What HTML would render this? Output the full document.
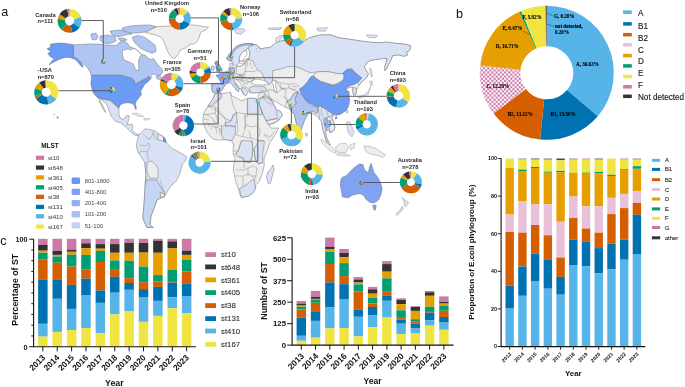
<!DOCTYPE html><html><head><meta charset="utf-8"><style>html,body{margin:0;padding:0;background:#fff;width:685px;height:387px;overflow:hidden}svg{display:block;will-change:transform}</style></head><body><svg width="685" height="387" viewBox="0 0 685 387" font-family="Liberation Sans, sans-serif"><polygon points="145.2,32.4 148.1,30.1 157.4,26.6 169.1,26.0 192.3,24.9 200.5,26.0 208.6,27.2 205.1,30.1 200.5,32.4 199.3,37.1 197.0,41.7 193.5,44.1 191.0,43.9 185.6,47.8 180.2,50.1 177.8,54.7 174.7,58.6 171.6,57.1 168.5,53.2 166.2,47.8 164.7,43.9 163.1,40.0 160.9,37.1 155.1,34.8 149.3,33.6" fill="#EDEDED" stroke="#666666" stroke-width="0.45" stroke-linejoin="round"/>
<polygon points="91.0,34.0 96.0,33.0 98.0,37.0 96.0,40.0 92.0,39.5" fill="#AFC6F4" stroke="#666666" stroke-width="0.45" stroke-linejoin="round"/>
<polygon points="100.0,36.0 108.0,35.0 115.0,37.0 116.0,41.0 110.0,43.5 103.0,43.0 100.0,40.0" fill="#AFC6F4" stroke="#666666" stroke-width="0.45" stroke-linejoin="round"/>
<polygon points="110.0,31.0 120.0,30.0 131.0,30.5 132.0,34.0 125.0,35.0 118.0,37.0 112.0,35.0" fill="#AFC6F4" stroke="#666666" stroke-width="0.45" stroke-linejoin="round"/>
<polygon points="122.0,28.0 130.0,26.0 140.0,25.2 150.0,25.0 156.0,26.5 150.0,30.0 145.0,32.0 138.0,33.0 130.0,33.0 124.0,31.0" fill="#AFC6F4" stroke="#666666" stroke-width="0.45" stroke-linejoin="round"/>
<polygon points="132.5,37.0 138.0,35.5 144.0,37.0 150.0,41.0 155.0,45.0 156.0,49.5 155.6,52.0 152.0,53.3 146.0,51.0 141.0,48.5 137.0,45.0 135.0,43.0 133.0,40.0" fill="#AFC6F4" stroke="#666666" stroke-width="0.45" stroke-linejoin="round"/>
<polygon points="131.0,49.0 135.0,48.5 136.0,51.0 132.0,51.0" fill="#AFC6F4" stroke="#666666" stroke-width="0.45" stroke-linejoin="round"/>
<polygon points="118.0,38.5 124.0,38.0 127.0,40.0 121.0,41.0" fill="#AFC6F4" stroke="#666666" stroke-width="0.45" stroke-linejoin="round"/>
<polygon points="73.3,44.8 80.0,44.5 90.8,43.9 98.0,44.0 107.0,45.0 116.0,45.5 120.0,42.0 125.0,41.5 128.0,44.0 130.0,47.0 133.0,48.0 137.0,50.0 140.0,53.5 141.2,54.3 145.3,55.3 148.4,58.4 151.5,59.5 153.6,58.4 155.6,61.5 157.7,64.6 159.8,66.7 162.4,69.3 162.9,71.8 160.8,74.9 157.7,76.0 153.6,73.9 150.5,76.0 152.0,77.5 150.4,79.3 148.6,76.4 146.9,78.2 143.4,79.9 138.7,82.3 135.2,84.6 134.0,80.5 131.1,78.2 124.7,76.4 121.2,75.3 91.4,75.3 89.6,71.2 86.5,66.5 81.9,62.6 77.0,58.8 73.3,57.2" fill="#AFC6F4" stroke="#666666" stroke-width="0.45" stroke-linejoin="round"/>
<polygon points="156.0,76.5 159.5,75.5 161.8,77.5 160.0,79.5 157.0,79.0" fill="#AFC6F4" stroke="#666666" stroke-width="0.35" stroke-linejoin="round"/>
<polygon points="122.3,50.5 127.0,49.0 131.0,49.8 134.0,48.3 137.0,50.0 140.0,53.5 141.5,55.0 140.0,57.0 138.5,61.0 138.8,70.5 135.5,70.0 133.3,64.0 129.0,62.0 124.0,60.0 122.5,56.0" fill="#ffffff" stroke="#666666" stroke-width="0.45" stroke-linejoin="round"/>
<polygon points="50.9,44.0 58.6,43.0 64.8,43.3 73.3,44.8 73.3,57.2 77.2,58.8 81.1,62.6 83.4,66.5 82.0,67.0 75.7,59.8 70.2,57.5 64.8,57.5 60.2,59.0 55.5,61.2 50.9,63.6 49.3,65.0 51.0,62.0 54.0,58.8 50.0,56.4 47.8,53.3 50.9,51.8 47.0,48.7 50.9,47.1 50.0,44.8" fill="#6B9BF4" stroke="#666666" stroke-width="0.45" stroke-linejoin="round"/>
<polygon points="91.4,75.3 121.2,75.3 124.7,76.4 131.1,78.2 134.0,80.5 135.2,84.6 138.7,82.3 143.4,79.9 146.9,78.2 148.6,76.4 150.4,79.3 148.1,81.7 144.6,84.6 142.2,88.7 140.5,91.6 141.6,94.5 138.7,98.0 136.4,100.9 135.2,103.9 136.4,107.4 135.8,109.7 134.0,105.0 131.7,103.3 127.0,102.7 123.5,103.3 120.0,105.0 118.9,108.5 116.5,106.2 113.0,103.3 110.1,100.4 106.0,99.8 102.5,99.2 99.0,98.0 96.1,96.3 93.2,92.8 92.0,88.7 90.8,84.0 91.4,79.3" fill="#6B9BF4" stroke="#666666" stroke-width="0.45" stroke-linejoin="round"/>
<polygon points="53.6,114.2 54.6,114.6 54.2,115.2" fill="#6B9BF4" stroke="#666666" stroke-width="0.3" stroke-linejoin="round"/>
<polygon points="56.8,116.6 58.6,117.4 58.2,118.6 57.0,118.0" fill="#6B9BF4" stroke="#666666" stroke-width="0.3" stroke-linejoin="round"/>
<polygon points="97.5,97.5 99.0,98.0 102.5,99.2 106.0,99.8 110.1,100.4 113.0,103.3 116.5,106.2 118.9,108.5 118.8,113.6 120.0,117.7 122.9,119.4 125.2,118.3 125.8,115.9 128.7,115.3 129.3,118.3 128.1,121.7 127.0,124.7 132.2,124.1 132.8,127.0 132.2,129.9 134.0,132.2 136.9,134.0 139.2,135.1 135.7,135.7 132.2,133.4 128.7,129.9 125.2,126.4 120.6,122.9 115.3,121.2 111.3,116.5 109.0,110.1 106.6,104.3 103.0,101.0" fill="#D9E2F5" stroke="#666666" stroke-width="0.45" stroke-linejoin="round"/>
<polygon points="99.1,99.7 102.0,104.3 104.9,110.1 105.5,112.4 103.1,109.0 99.7,102.0" fill="#D9E2F5" stroke="#666666" stroke-width="0.45" stroke-linejoin="round"/>
<polygon points="132.2,113.5 137.0,113.0 143.8,116.5 140.0,116.5 135.0,115.0" fill="#EDEDED" stroke="#666666" stroke-width="0.3" stroke-linejoin="round"/>
<polygon points="143.8,118.3 149.7,118.5 149.0,120.0 144.0,120.0" fill="#EDEDED" stroke="#666666" stroke-width="0.3" stroke-linejoin="round"/>
<polygon points="138.9,134.4 143.4,130.7 145.0,128.7 150.6,129.8 155.5,131.0 157.9,133.5 163.6,136.9 165.1,138.9 167.2,143.6 171.9,148.3 178.1,151.4 183.5,154.5 186.8,157.0 185.5,160.5 182.7,163.8 181.2,168.4 179.6,174.6 176.5,180.8 171.9,185.0 168.6,189.3 164.4,196.5 157.2,199.6 154.1,207.9 151.0,216.1 150.0,224.4 153.1,227.5 146.9,227.5 142.7,218.2 143.8,207.9 144.8,191.3 145.8,174.8 144.8,162.4 140.7,156.2 138.0,152.4 136.2,145.2" fill="#D9E2F5" stroke="#666666" stroke-width="0.45" stroke-linejoin="round"/>
<polygon points="146.5,180.0 157.0,180.0 160.0,186.0 164.4,192.5 164.4,196.5 157.2,199.6 154.1,207.9 151.0,216.1 150.0,224.4 153.1,227.5 146.9,227.5 142.7,218.2 143.8,207.9 144.8,191.3 145.5,180.0" fill="#C5D6F2" stroke="#666666" stroke-width="0.45" stroke-linejoin="round"/>
<polygon points="147.0,162.0 152.0,161.0 156.0,165.0 158.3,170.0 158.0,178.0 150.0,178.5 147.0,172.0" fill="#EDEDED" stroke="#666666" stroke-width="0.45" stroke-linejoin="round"/>
<polygon points="160.3,192.4 164.4,194.0 164.4,196.5 160.5,197.5" fill="#EDEDED" stroke="#666666" stroke-width="0.45" stroke-linejoin="round"/>
<polygon points="157.9,133.5 163.6,136.9 163.5,141.0 158.0,140.0" fill="#EDEDED" stroke="#666666" stroke-width="0.45" stroke-linejoin="round"/>
<polygon points="163.6,136.9 165.1,138.9 166.0,142.5 163.5,141.5" fill="#6B9BF4" stroke="#666666" stroke-width="0.45" stroke-linejoin="round"/>
<polygon points="211.2,85.9 212.2,83.8 215.3,83.3 222.1,83.8 221.6,81.7 219.5,79.1 218.4,77.1 216.4,76.6 216.4,75.5 219.5,74.5 223.1,73.4 226.7,72.4 228.3,70.3 229.3,67.2 230.5,66.0 230.9,63.1 232.9,64.1 232.4,66.5 232.4,67.8 235.0,67.5 238.0,66.5 242.0,65.5 244.0,64.0 246.0,62.0 246.0,59.5 249.0,58.5 249.5,56.0 250.0,52.0 248.0,48.0 250.0,44.5 252.9,44.3 257.0,45.0 261.0,49.0 265.0,48.0 270.0,47.5 277.0,42.1 284.2,40.3 293.3,43.9 302.3,42.1 309.6,37.6 320.4,34.9 330.9,34.9 338.1,37.6 350.0,39.3 358.5,40.7 368.5,42.1 378.4,42.8 387.0,42.1 396.9,43.5 405.5,44.2 410.5,45.7 409.7,50.6 406.2,52.1 407.6,54.9 404.0,56.3 398.4,54.9 392.7,55.6 391.3,59.2 389.1,63.4 386.3,69.1 384.9,70.6 384.9,66.3 386.3,62.0 387.0,58.5 384.9,58.5 378.4,59.2 372.8,59.9 368.5,61.3 364.2,66.3 365.9,70.0 368.3,73.5 367.1,77.0 362.4,81.6 359.0,85.1 356.6,89.8 356.0,94.4 353.7,95.0 352.6,90.9 353.1,87.4 349.7,87.4 345.0,89.8 348.5,91.5 349.7,93.3 347.3,99.1 347.3,104.9 346.2,110.7 344.7,111.2 340.5,114.0 336.2,115.0 333.3,114.7 331.7,118.6 334.0,123.3 334.8,127.9 333.3,131.0 330.2,132.6 328.6,129.5 325.5,131.0 326.3,137.2 328.6,141.9 330.2,145.0 327.8,144.2 325.5,138.8 324.0,133.3 322.4,127.9 321.6,121.7 319.3,118.6 316.2,115.5 313.1,114.0 309.9,111.7 306.8,115.6 304.5,120.3 302.2,126.5 300.6,131.9 299.1,133.4 297.5,129.6 296.0,121.8 294.4,114.1 291.3,111.7 289.8,108.7 286.0,107.5 283.0,106.0 278.0,103.0 273.0,100.0 270.5,98.0 272.0,101.0 274.0,104.7 276.5,110.0 280.4,111.3 282.4,115.2 279.1,119.8 273.8,123.1 268.6,124.4 266.6,121.8 263.3,115.2 260.7,108.7 258.7,102.7 258.1,96.8 259.4,92.9 262.0,92.0 256.0,92.5 252.0,93.0 249.5,92.5 248.4,89.0 246.5,87.5 245.0,88.0 246.4,92.0 244.0,95.2 242.0,92.0 241.2,90.0 239.0,88.0 237.0,85.0 235.0,82.8 237.1,85.9 239.1,89.0 238.1,91.0 236.0,90.0 235.0,86.9 231.9,83.8 230.3,82.2 227.8,83.3 225.2,84.3 223.6,86.9 222.1,90.0 220.5,92.1 217.4,93.1 214.8,92.6 212.8,92.1 211.7,89.0" fill="#EDEDED" stroke="#666666" stroke-width="0.45" stroke-linejoin="round"/>
<polygon points="246.0,59.5 249.0,58.5 249.5,56.0 250.0,52.0 248.0,48.0 250.0,44.5 252.9,44.3 257.0,45.0 261.0,49.0 265.0,48.0 270.0,47.5 277.0,42.1 284.2,40.3 293.3,43.9 302.3,42.1 309.6,37.6 320.4,34.9 330.9,34.9 338.1,37.6 350.0,39.3 358.5,40.7 368.5,42.1 378.4,42.8 387.0,42.1 396.9,43.5 405.5,44.2 410.5,45.7 409.7,50.6 406.2,52.1 407.6,54.9 404.0,56.3 398.4,54.9 392.7,55.6 391.3,59.2 389.1,63.4 386.3,69.1 384.9,70.6 384.9,66.3 386.3,62.0 387.0,58.5 384.9,58.5 378.4,59.2 372.8,59.9 368.5,61.3 364.2,66.3 365.9,70.0 368.3,73.5 367.1,77.0 362.4,81.6 359.0,85.1 357.5,82.0 358.5,78.0 356.0,73.0 352.0,69.2 347.6,69.2 344.0,72.0 342.6,73.5 336.2,73.5 330.5,72.1 323.4,71.4 316.3,72.1 310.0,72.6 305.0,70.7 299.8,68.1 293.3,66.2 286.9,66.8 281.7,68.7 272.6,70.7 272.6,79.7 271.0,83.0 269.0,85.0 266.0,82.0 264.0,78.0 262.3,73.3 258.0,70.0 255.0,66.0 253.0,61.0 250.0,60.0" fill="#D9E2F5" stroke="#666666" stroke-width="0.45" stroke-linejoin="round"/>
<polygon points="234.0,30.5 238.0,28.8 243.5,28.6 245.5,30.5 241.0,34.3 236.5,33.5" fill="#D9E2F5" stroke="#666666" stroke-width="0.35" stroke-linejoin="round"/>
<polygon points="276.0,38.0 280.0,35.5 284.0,35.3 281.0,38.5 277.5,42.5 275.5,41.0" fill="#D9E2F5" stroke="#666666" stroke-width="0.35" stroke-linejoin="round"/>
<polygon points="316.8,28.0 327.6,27.7 325.0,31.3 318.0,31.0" fill="#D9E2F5" stroke="#666666" stroke-width="0.35" stroke-linejoin="round"/>
<polygon points="268.0,28.0 282.0,27.7 280.0,29.5 269.0,29.5" fill="#D9E2F5" stroke="#666666" stroke-width="0.35" stroke-linejoin="round"/>
<polygon points="366.0,35.0 372.0,34.8 378.0,35.5 376.0,37.5 369.0,37.8" fill="#D9E2F5" stroke="#666666" stroke-width="0.35" stroke-linejoin="round"/>
<polygon points="226.5,58.7 229.0,54.5 232.3,50.4 236.4,46.3 240.5,44.6 244.7,43.8 248.8,43.4 252.9,43.8 253.5,45.5 250.0,46.0 247.5,48.0 246.3,50.4 243.8,51.2 240.5,54.5 239.3,58.7 239.7,63.6 238.0,65.5 235.0,66.0 233.0,64.0 232.0,61.5 229.0,60.5" fill="#D9E2F5" stroke="#666666" stroke-width="0.45" stroke-linejoin="round"/>
<polygon points="226.5,58.7 229.0,54.5 232.3,50.4 236.4,46.3 240.5,44.6 244.7,43.8 248.8,43.4 252.9,43.8 252.5,45.0 248.0,44.8 244.0,45.3 240.0,46.5 236.0,49.0 233.0,53.0 232.5,57.0 232.0,60.5 229.0,60.8" fill="#A7BEF3" stroke="#666666" stroke-width="0.45" stroke-linejoin="round"/>
<polygon points="246.3,50.4 247.1,54.5 243.8,58.7 243.0,62.8 239.7,63.6 239.3,58.7 240.5,54.5 243.8,51.2" fill="#ffffff" stroke="#666666" stroke-width="0.45" stroke-linejoin="round"/>
<polygon points="237.0,65.5 238.5,62.5 242.0,61.5 244.3,60.3 246.0,59.6 249.0,59.2 246.5,60.8 244.5,62.0 243.5,64.5 241.0,66.0 238.0,66.5" fill="#ffffff" stroke="#666666" stroke-width="0.45" stroke-linejoin="round"/>
<polygon points="256.5,48.5 259.0,48.0 260.0,50.0 258.0,51.5 257.0,50.5" fill="#ffffff" stroke="#666666" stroke-width="0.35" stroke-linejoin="round"/>
<polygon points="251.3,81.0 255.8,79.1 260.0,79.6 263.6,80.4 268.8,83.0 266.0,84.5 263.6,84.9 255.8,84.9 252.0,83.6" fill="#ffffff" stroke="#666666" stroke-width="0.45" stroke-linejoin="round"/>
<polygon points="272.6,79.7 276.5,81.0 275.5,84.0 275.9,87.5 277.2,92.6 274.6,91.4 273.8,88.0 273.3,84.9 272.0,82.5" fill="#ffffff" stroke="#666666" stroke-width="0.45" stroke-linejoin="round"/>
<polygon points="299.3,89.1 303.5,86.3 307.8,81.3 310.6,77.0 313.5,75.6 316.3,78.5 320.6,81.3 327.7,83.4 333.4,84.9 337.6,83.4 343.3,79.9 344.0,75.6 342.6,73.5 347.6,69.2 351.8,69.2 354.7,72.8 358.9,75.6 361.8,77.8 358.9,81.3 354.7,84.2 350.4,85.6 346.9,87.7 345.4,90.6 348.3,91.3 349.0,95.5 349.7,99.8 349.0,104.0 347.6,108.3 344.7,111.2 340.5,114.0 336.2,115.0 330.5,112.6 326.3,109.7 322.0,106.9 316.3,106.2 310.6,104.0 306.4,101.2 303.5,96.9 300.7,92.7" fill="#6B9BF4" stroke="#666666" stroke-width="0.45" stroke-linejoin="round"/>
<polygon points="313.5,75.6 316.3,72.1 323.4,71.4 330.5,72.1 336.2,73.5 342.6,73.5 344.0,75.6 343.3,79.9 337.6,83.4 333.4,84.9 327.7,83.4 320.6,81.3 316.3,78.5" fill="#EDEDED" stroke="#666666" stroke-width="0.45" stroke-linejoin="round"/>
<polygon points="353.1,87.4 356.6,88.5 356.6,89.8 356.0,94.4 353.7,95.0 352.6,90.9" fill="#D9E2F5" stroke="#666666" stroke-width="0.45" stroke-linejoin="round"/>
<polygon points="369.4,81.6 372.0,81.0 372.9,85.1 370.5,85.6" fill="#D9E2F5" stroke="#666666" stroke-width="0.3" stroke-linejoin="round"/>
<polygon points="370.6,86.3 368.3,90.9 364.8,94.4 360.1,96.2 357.8,97.3 359.0,98.5 363.6,96.7 368.3,94.4 370.0,89.8" fill="#D9E2F5" stroke="#666666" stroke-width="0.3" stroke-linejoin="round"/>
<polygon points="369.6,68.0 371.0,68.5 372.5,76.0 371.2,77.0" fill="#D9E2F5" stroke="#666666" stroke-width="0.3" stroke-linejoin="round"/>
<polygon points="297.5,91.6 302.2,95.5 306.8,101.7 311.5,106.3 316.1,106.3 317.7,107.1 318.4,111.0 316.1,114.1 313.8,111.7 309.9,111.7 306.8,115.6 304.5,120.3 302.2,126.5 300.6,131.9 299.1,133.4 297.5,129.6 296.0,121.8 294.4,114.1 291.3,111.7 289.8,108.7 292.9,106.3 296.0,103.2 295.2,98.6 296.7,94.7" fill="#AFC4F2" stroke="#666666" stroke-width="0.45" stroke-linejoin="round"/>
<polygon points="288.2,103.2 289.8,108.7 292.9,106.3 296.0,103.2 295.2,98.6 296.7,94.7 297.5,91.6 293.7,93.9 290.6,98.6 286.7,101.7" fill="#C5D4F3" stroke="#666666" stroke-width="0.45" stroke-linejoin="round"/>
<polygon points="317.7,107.1 320.8,106.3 322.0,106.9 326.3,109.7 330.5,112.6 333.3,114.7 331.7,118.6 334.0,123.3 334.8,127.9 333.3,131.0 330.2,132.6 328.6,129.5 325.5,131.0 326.3,137.2 328.6,141.9 330.2,145.0 327.8,144.2 325.5,138.8 324.0,133.3 322.4,127.9 321.6,121.7 319.3,118.6 318.4,111.0" fill="#D9E2F5" stroke="#666666" stroke-width="0.45" stroke-linejoin="round"/>
<polygon points="327.0,117.5 330.5,116.0 333.5,114.8 331.7,118.6 334.0,123.3 334.8,127.9 333.3,131.0 330.2,132.6 329.4,127.5 330.9,123.9 330.4,120.8 327.3,121.3" fill="#E6ECF8" stroke="#666666" stroke-width="0.45" stroke-linejoin="round"/>
<polygon points="324.2,118.2 326.8,117.7 327.3,121.3 330.4,120.8 330.9,123.9 329.4,126.5 327.3,127.5 326.3,130.0 325.2,127.5 324.2,124.9 323.7,121.3" fill="#A3BBF2" stroke="#666666" stroke-width="0.45" stroke-linejoin="round"/>
<polygon points="335.0,117.0 337.0,116.5 336.8,118.8 335.2,119.0" fill="#6B9BF4" stroke="#666666" stroke-width="0.3" stroke-linejoin="round"/>
<polygon points="258.7,102.7 260.7,108.7 263.3,115.2 266.6,121.8 268.6,124.4 273.8,123.1 279.1,119.8 282.4,115.2 280.4,111.3 276.5,110.0 273.8,104.7 271.2,100.8 268.6,96.8 262.0,97.0 259.4,99.0" fill="#D9E2F5" stroke="#666666" stroke-width="0.45" stroke-linejoin="round"/>
<polygon points="266.0,120.8 272.0,119.5 277.4,118.5 279.1,119.8 273.8,123.1 268.6,124.4 266.6,121.8" fill="#EDEDED" stroke="#666666" stroke-width="0.45" stroke-linejoin="round"/>
<polygon points="215.5,61.2 217.7,61.0 218.5,63.5 220.0,66.0 221.8,68.5 222.4,70.5 220.0,71.4 216.5,71.4 217.0,69.5 215.8,67.5 216.0,65.0 214.6,63.5" fill="#7CA2F2" stroke="#666666" stroke-width="0.45" stroke-linejoin="round"/>
<polygon points="211.0,66.5 213.5,65.7 214.6,67.5 214.0,70.0 211.5,70.3" fill="#C9D6F4" stroke="#666666" stroke-width="0.45" stroke-linejoin="round"/>
<polygon points="216.2,75.5 220.3,73.4 225.5,71.9 229.1,72.4 229.6,76.5 229.1,80.7 228.1,83.2 224.5,83.2 221.4,83.8 219.8,80.7 218.3,77.6" fill="#86A8F2" stroke="#666666" stroke-width="0.45" stroke-linejoin="round"/>
<polygon points="212.0,84.2 216.0,83.5 222.0,84.0 225.5,85.0 223.6,87.5 222.0,90.5 220.0,92.5 216.0,93.0 213.0,92.8 211.8,89.0" fill="#B4C8F4" stroke="#666666" stroke-width="0.45" stroke-linejoin="round"/>
<polygon points="229.1,68.3 232.0,67.8 234.8,69.0 234.8,73.5 233.5,76.5 230.0,76.5 229.6,73.0" fill="#A6BEF3" stroke="#666666" stroke-width="0.45" stroke-linejoin="round"/>
<polygon points="229.6,78.6 233.0,78.1 234.5,79.5 234.0,82.0 236.5,85.5 239.0,88.5 238.5,92.0 236.5,90.0 235.0,88.0 232.0,84.5 230.0,82.5" fill="#C6D5F4" stroke="#666666" stroke-width="0.45" stroke-linejoin="round"/>
<polygon points="229.6,76.5 233.5,76.5 234.0,78.5 229.6,78.6" fill="#C9D6F4" stroke="#666666" stroke-width="0.45" stroke-linejoin="round"/>
<polygon points="229.5,63.0 232.8,63.5 233.0,67.5 230.0,67.8" fill="#D9E2F5" stroke="#666666" stroke-width="0.3" stroke-linejoin="round"/>
<polygon points="241.0,88.0 245.0,87.9 248.2,91.0 246.0,96.2 243.0,93.0" fill="#D9E2F5" stroke="#666666" stroke-width="0.45" stroke-linejoin="round"/>
<polygon points="249.3,87.5 253.0,86.5 258.0,86.2 265.0,86.8 266.5,90.5 260.0,92.5 253.0,93.0 250.0,92.0" fill="#D9E2F5" stroke="#666666" stroke-width="0.45" stroke-linejoin="round"/>
<polygon points="235.0,76.5 241.0,76.0 244.0,78.0 241.0,80.0 236.0,79.5" fill="#D9E2F5" stroke="#666666" stroke-width="0.45" stroke-linejoin="round"/>
<polygon points="208.1,106.0 210.8,102.1 213.4,98.1 214.7,94.2 218.0,92.9 221.3,93.5 226.5,92.9 230.5,92.2 231.8,96.2 237.0,98.1 241.0,100.8 246.2,98.8 251.5,98.1 256.8,98.8 258.7,102.7 260.7,108.7 263.3,115.2 266.6,121.8 268.6,124.4 271.3,128.1 278.7,128.1 275.7,134.0 269.8,142.9 266.8,151.8 263.9,159.3 264.3,165.0 263.2,170.2 261.7,175.3 259.1,181.5 256.0,184.6 255.5,188.8 252.9,192.9 248.8,196.0 241.5,197.5 239.5,193.9 238.4,188.8 236.4,183.6 234.8,177.4 233.3,170.2 233.8,165.0 235.2,158.0 233.4,155.3 233.0,150.0 233.6,145.0 232.0,141.0 228.0,140.0 223.7,139.5 219.1,140.1 214.4,139.5 210.9,137.2 207.4,132.6 205.1,127.9 204.0,125.0 202.8,120.9 203.4,115.1 205.1,110.5" fill="#EDEDED" stroke="#666666" stroke-width="0.45" stroke-linejoin="round"/>
<polygon points="208.1,106.0 210.8,102.1 213.4,98.1 214.7,94.2 218.0,92.9 221.3,93.5 222.0,97.0 218.0,100.0 214.0,103.0 210.0,107.0" fill="#D9E2F5" stroke="#666666" stroke-width="0.45" stroke-linejoin="round"/>
<polygon points="247.6,98.5 251.5,98.1 256.8,98.8 258.7,102.7 260.7,108.7 262.0,114.6 247.6,114.6" fill="#D9E2F5" stroke="#666666" stroke-width="0.45" stroke-linejoin="round"/>
<polygon points="236.4,112.5 237.2,121.0 234.1,127.2 226.4,126.4 224.8,123.3 231.0,121.0 233.3,114.8" fill="#D9E2F5" stroke="#666666" stroke-width="0.45" stroke-linejoin="round"/>
<polygon points="221.5,126.0 230.0,125.7 235.7,127.0 235.0,135.0 232.0,140.5 228.0,140.0 223.7,139.5 221.5,135.0" fill="#D9E2F5" stroke="#666666" stroke-width="0.45" stroke-linejoin="round"/>
<polygon points="241.7,140.5 252.2,141.0 252.8,148.6 252.2,156.7 249.9,162.6 244.1,161.4 242.9,157.9 238.3,156.7 235.3,154.4 238.3,150.9 240.0,145.1" fill="#D9E2F5" stroke="#666666" stroke-width="0.45" stroke-linejoin="round"/>
<polygon points="258.6,140.5 264.4,141.0 263.8,147.4 262.7,153.3 262.7,162.6 258.0,163.7 255.1,159.1 254.0,148.6 256.9,144.0" fill="#D9E2F5" stroke="#666666" stroke-width="0.45" stroke-linejoin="round"/>
<polygon points="239.5,188.8 243.1,186.7 247.2,184.1 251.3,180.5 254.4,180.0 255.5,188.8 252.9,192.9 248.8,196.0 241.5,197.5" fill="#D9E2F5" stroke="#666666" stroke-width="0.45" stroke-linejoin="round"/>
<polygon points="267.4,180.5 266.3,176.4 268.4,171.2 271.5,168.1 273.0,165.0 274.1,169.1 272.5,175.3 270.5,183.1 268.4,184.1" fill="#D9E2F5" stroke="#666666" stroke-width="0.45" stroke-linejoin="round"/>
<polygon points="320.9,138.8 326.0,142.0 332.0,147.0 336.4,152.7 334.0,153.0 328.0,149.0 322.0,143.0" fill="#EDEDED" stroke="#666666" stroke-width="0.3" stroke-linejoin="round"/>
<polygon points="335.6,147.0 340.0,143.4 346.0,143.4 348.8,147.0 346.0,152.7 340.0,152.7 336.0,151.0" fill="#EDEDED" stroke="#666666" stroke-width="0.3" stroke-linejoin="round"/>
<polygon points="337.0,153.5 344.0,153.8 350.0,155.8 344.0,156.0 337.0,155.2" fill="#EDEDED" stroke="#666666" stroke-width="0.3" stroke-linejoin="round"/>
<polygon points="350.0,145.0 355.0,143.0 354.0,148.0 351.0,150.0" fill="#EDEDED" stroke="#666666" stroke-width="0.3" stroke-linejoin="round"/>
<polygon points="364.0,146.0 370.0,146.5 377.0,149.0 385.5,155.0 383.0,157.5 376.0,155.0 370.0,154.0 365.5,151.0" fill="#EDEDED" stroke="#666666" stroke-width="0.35" stroke-linejoin="round"/>
<polygon points="346.4,122.0 350.0,121.7 352.0,127.0 354.2,132.0 352.0,137.0 348.0,133.0 347.0,127.0" fill="#D9E2F5" stroke="#666666" stroke-width="0.3" stroke-linejoin="round"/>
<polygon points="305.8,133.0 307.3,133.4 307.6,135.8 306.2,136.4 305.6,135.0" fill="#D9E2F5" stroke="#666666" stroke-width="0.35" stroke-linejoin="round"/>
<polygon points="346.5,110.5 348.0,110.0 347.8,113.0 346.6,113.0" fill="#D9E2F5" stroke="#666666" stroke-width="0.3" stroke-linejoin="round"/>
<polygon points="340.9,179.4 342.4,177.2 346.1,175.7 349.0,172.7 352.0,169.8 354.2,167.6 357.1,165.4 359.3,163.9 363.0,164.6 363.7,167.6 365.2,170.5 368.2,172.7 369.6,166.8 371.1,163.2 372.6,168.3 374.1,172.7 377.8,177.2 380.7,183.1 382.2,189.0 380.7,195.6 378.5,200.0 374.1,203.0 369.6,202.2 366.0,199.3 363.7,195.6 360.1,193.4 352.7,194.9 348.3,197.8 342.4,197.1 341.6,191.9 340.2,185.3" fill="#7FA3F2" stroke="#666666" stroke-width="0.45" stroke-linejoin="round"/>
<polygon points="372.6,205.2 376.3,205.2 375.5,210.3 373.6,209.6" fill="#7FA3F2" stroke="#666666" stroke-width="0.35" stroke-linejoin="round"/>
<polygon points="402.4,197.4 404.7,200.1 408.6,202.4 407.4,204.7 405.5,207.1 404.3,205.5 404.3,202.4" fill="#D9E2F5" stroke="#666666" stroke-width="0.35" stroke-linejoin="round"/>
<polygon points="402.4,206.3 403.2,208.6 401.6,210.9 398.5,214.0 397.0,215.6 396.2,213.3 398.5,211.7 400.9,208.6" fill="#D9E2F5" stroke="#666666" stroke-width="0.35" stroke-linejoin="round"/>
<polyline points="220.2,93.1 220.2,99.3 217.8,100.9 213.2,106.3" fill="none" stroke="#7a7a7a" stroke-width="0.4"/>
<polyline points="209.3,105.5 215.5,107.0 215.5,113.3 209.3,114.0 205.0,114.8" fill="none" stroke="#7a7a7a" stroke-width="0.4"/>
<polyline points="215.5,107.0 225.6,118.7 231.0,121.0 233.3,114.8 236.4,112.5" fill="none" stroke="#7a7a7a" stroke-width="0.4"/>
<polyline points="236.4,112.5 233.0,105.0 231.8,99.3 230.2,92.3" fill="none" stroke="#7a7a7a" stroke-width="0.4"/>
<polyline points="247.3,100.0 247.3,114.0" fill="none" stroke="#7a7a7a" stroke-width="0.4"/>
<polyline points="236.4,112.5 241.9,113.3 247.3,114.0 257.4,114.0" fill="none" stroke="#7a7a7a" stroke-width="0.4"/>
<polyline points="237.2,121.0 238.0,128.8 236.4,135.0" fill="none" stroke="#7a7a7a" stroke-width="0.4"/>
<polyline points="245.0,114.8 245.0,130.3 241.9,136.5" fill="none" stroke="#7a7a7a" stroke-width="0.4"/>
<polyline points="257.4,125.7 260.5,130.3 258.9,136.5" fill="none" stroke="#7a7a7a" stroke-width="0.4"/>
<polyline points="215.5,113.3 218.0,122.0 212.0,124.0 208.0,126.0" fill="none" stroke="#7a7a7a" stroke-width="0.4"/>
<polyline points="211.0,129.0 213.0,126.0 218.0,127.5 222.0,131.0" fill="none" stroke="#7a7a7a" stroke-width="0.4"/>
<polyline points="216.0,127.0 216.5,133.5" fill="none" stroke="#7a7a7a" stroke-width="0.4"/>
<polyline points="219.7,128.0 220.0,134.5" fill="none" stroke="#7a7a7a" stroke-width="0.4"/>
<polyline points="225.0,126.4 231.0,125.5 236.4,127.0" fill="none" stroke="#7a7a7a" stroke-width="0.4"/>
<polyline points="236.4,135.0 241.9,136.5 250.0,138.0 255.0,139.0 258.6,140.5" fill="none" stroke="#7a7a7a" stroke-width="0.4"/>
<polyline points="264.0,134.0 270.0,137.0 275.0,131.0" fill="none" stroke="#7a7a7a" stroke-width="0.4"/>
<polyline points="241.7,140.5 240.0,145.1 238.3,150.9 235.3,154.4" fill="none" stroke="#7a7a7a" stroke-width="0.4"/>
<polyline points="238.3,156.7 242.9,157.9 244.1,161.4 249.9,162.6 252.2,156.7 252.8,148.6 252.2,141.0" fill="none" stroke="#7a7a7a" stroke-width="0.4"/>
<polyline points="254.0,148.6 255.1,159.1 258.0,163.7 262.7,162.6" fill="none" stroke="#7a7a7a" stroke-width="0.4"/>
<polyline points="236.0,170.0 244.0,170.0 248.0,168.0 253.0,166.0 257.0,168.0" fill="none" stroke="#7a7a7a" stroke-width="0.4"/>
<polyline points="243.1,186.7 243.0,176.0 248.0,174.0 252.0,176.0 254.4,180.0" fill="none" stroke="#7a7a7a" stroke-width="0.4"/>
<polyline points="257.0,168.0 256.0,176.0 254.4,180.0" fill="none" stroke="#7a7a7a" stroke-width="0.4"/>
<polyline points="234.5,176.0 242.0,176.0" fill="none" stroke="#7a7a7a" stroke-width="0.4"/>
<polyline points="247.4,114.1 259.3,114.1" fill="none" stroke="#7a7a7a" stroke-width="0.4"/>
<polyline points="247.4,114.1 247.4,117.5" fill="none" stroke="#7a7a7a" stroke-width="0.4"/>
<polyline points="245.3,113.6 245.3,118.0 246.0,125.0 244.5,129.0" fill="none" stroke="#7a7a7a" stroke-width="0.4"/>
<polyline points="266.0,120.8 272.0,119.5 277.4,118.5" fill="none" stroke="#7a7a7a" stroke-width="0.4"/>
<polyline points="276.3,110.5 277.0,116.0 277.4,118.5" fill="none" stroke="#7a7a7a" stroke-width="0.4"/>
<polyline points="259.5,99.0 263.0,97.5 268.0,98.5 271.0,101.0" fill="none" stroke="#7a7a7a" stroke-width="0.4"/>
<polyline points="207.2,105.9 211.4,107.4 214.5,109.5 218.6,112.6 225.3,118.8" fill="none" stroke="#7a7a7a" stroke-width="0.4"/>
<polyline points="225.3,118.8 225.8,121.9 224.8,125.0" fill="none" stroke="#7a7a7a" stroke-width="0.4"/>
<polyline points="203.1,114.6 208.0,115.0 212.0,118.0 215.5,122.9" fill="none" stroke="#7a7a7a" stroke-width="0.4"/>
<polyline points="204.1,118.8 209.0,120.0" fill="none" stroke="#7a7a7a" stroke-width="0.4"/>
<polyline points="206.2,122.9 210.0,124.0" fill="none" stroke="#7a7a7a" stroke-width="0.4"/>
<polyline points="214.5,128.1 218.0,126.0 221.7,125.0" fill="none" stroke="#7a7a7a" stroke-width="0.4"/>
<polyline points="233.6,150.9 238.3,150.9" fill="none" stroke="#7a7a7a" stroke-width="0.4"/>
<polyline points="244.1,161.4 244.1,168.4" fill="none" stroke="#7a7a7a" stroke-width="0.4"/>
<polyline points="263.8,134.7 269.7,140.5" fill="none" stroke="#7a7a7a" stroke-width="0.4"/>
<polyline points="259.0,140.5 264.4,141.0" fill="none" stroke="#7a7a7a" stroke-width="0.4"/>
<polyline points="248.0,168.0 248.0,176.0" fill="none" stroke="#7a7a7a" stroke-width="0.4"/>
<polyline points="252.0,176.0 256.0,176.0" fill="none" stroke="#7a7a7a" stroke-width="0.4"/>
<polyline points="246.0,125.0 251.0,127.0 257.0,126.0" fill="none" stroke="#7a7a7a" stroke-width="0.4"/>
<polyline points="249.0,131.0 251.0,138.0" fill="none" stroke="#7a7a7a" stroke-width="0.4"/>
<polyline points="236.4,66.4 236.4,73.6 240.0,75.0 245.7,73.6" fill="none" stroke="#7a7a7a" stroke-width="0.4"/>
<polyline points="245.7,64.3 245.7,71.5 253.9,71.5 258.0,70.0" fill="none" stroke="#7a7a7a" stroke-width="0.4"/>
<polyline points="244.6,70.5 244.0,76.0 249.0,78.8 255.0,79.0" fill="none" stroke="#7a7a7a" stroke-width="0.4"/>
<polyline points="238.4,60.2 247.7,62.0 247.7,66.4" fill="none" stroke="#7a7a7a" stroke-width="0.4"/>
<polyline points="239.0,63.5 247.0,64.0" fill="none" stroke="#7a7a7a" stroke-width="0.4"/>
<polyline points="235.0,77.5 241.0,77.0 245.0,78.5 248.0,80.5" fill="none" stroke="#7a7a7a" stroke-width="0.4"/>
<polyline points="237.0,80.0 240.0,82.0 242.0,85.0 243.0,88.0" fill="none" stroke="#7a7a7a" stroke-width="0.4"/>
<polyline points="240.0,80.0 246.0,81.0 250.0,82.5" fill="none" stroke="#7a7a7a" stroke-width="0.4"/>
<polyline points="238.5,75.0 243.0,76.0" fill="none" stroke="#7a7a7a" stroke-width="0.4"/>
<polyline points="271.8,80.7 280.8,82.6 288.6,84.5 293.8,83.3 298.9,85.8 300.2,87.1" fill="none" stroke="#7a7a7a" stroke-width="0.4"/>
<polyline points="268.0,89.7 272.0,90.0 277.2,92.6" fill="none" stroke="#7a7a7a" stroke-width="0.4"/>
<polyline points="277.2,92.6 280.0,90.0 284.7,88.4 290.0,88.0 293.8,90.0 297.0,91.5" fill="none" stroke="#7a7a7a" stroke-width="0.4"/>
<polyline points="283.0,96.0 284.7,97.5 288.0,100.0 286.0,104.0 286.0,107.5" fill="none" stroke="#7a7a7a" stroke-width="0.4"/>
<polyline points="280.0,83.0 281.0,88.0 284.7,88.4" fill="none" stroke="#7a7a7a" stroke-width="0.4"/>
<polyline points="288.6,84.5 289.0,88.0" fill="none" stroke="#7a7a7a" stroke-width="0.4"/>
<polyline points="262.0,92.0 266.0,95.0 270.5,98.0" fill="none" stroke="#7a7a7a" stroke-width="0.4"/>
<polyline points="259.4,99.0 262.0,97.0 266.0,95.0" fill="none" stroke="#7a7a7a" stroke-width="0.4"/>
<polyline points="262.0,97.0 268.0,103.0 273.0,104.7" fill="none" stroke="#7a7a7a" stroke-width="0.4"/>
<polyline points="317.7,107.1 318.4,111.0" fill="none" stroke="#7a7a7a" stroke-width="0.4"/>
<polyline points="322.0,107.0 321.0,112.0 323.0,117.0" fill="none" stroke="#7a7a7a" stroke-width="0.4"/>
<polyline points="327.0,111.0 328.0,116.0 331.7,118.6" fill="none" stroke="#7a7a7a" stroke-width="0.4"/>
<polyline points="267.9,89.7 269.2,97.5 274.4,102.6" fill="none" stroke="#7a7a7a" stroke-width="0.4"/>
<polyline points="277.0,82.0 280.8,88.4 286.0,89.7" fill="none" stroke="#7a7a7a" stroke-width="0.4"/>
<polyline points="286.0,89.7 285.4,96.2 287.3,102.6" fill="none" stroke="#7a7a7a" stroke-width="0.4"/>
<polyline points="287.3,102.6 291.2,98.8 293.8,93.6 297.6,91.0" fill="none" stroke="#7a7a7a" stroke-width="0.4"/>
<polyline points="291.2,85.8 297.6,87.1" fill="none" stroke="#7a7a7a" stroke-width="0.4"/>
<polyline points="290.0,88.0 292.5,89.7 296.0,89.0" fill="none" stroke="#7a7a7a" stroke-width="0.4"/>
<polyline points="260.2,89.7 265.3,92.3 262.8,97.5" fill="none" stroke="#7a7a7a" stroke-width="0.4"/>
<polyline points="265.3,92.3 267.9,89.7" fill="none" stroke="#7a7a7a" stroke-width="0.4"/>
<polyline points="236.4,73.6 243.6,75.7" fill="none" stroke="#7a7a7a" stroke-width="0.4"/>
<polyline points="237.0,77.5 246.0,78.0" fill="none" stroke="#7a7a7a" stroke-width="0.4"/>
<polyline points="246.7,77.7 255.0,79.0 252.0,81.5 247.0,81.9" fill="none" stroke="#7a7a7a" stroke-width="0.4"/>
<polyline points="241.0,80.0 244.0,83.0 248.0,84.0" fill="none" stroke="#7a7a7a" stroke-width="0.4"/>
<polyline points="243.0,84.0 246.0,87.0" fill="none" stroke="#7a7a7a" stroke-width="0.4"/>
<polyline points="250.0,62.0 251.0,66.0 253.0,69.0" fill="none" stroke="#7a7a7a" stroke-width="0.4"/>
<polyline points="143.0,134.0 147.0,138.0 150.0,139.0 152.0,136.0 153.3,132.0" fill="none" stroke="#7a7a7a" stroke-width="0.4"/>
<polyline points="140.0,145.0 145.0,146.0 148.0,143.0 150.0,146.0 147.0,152.0" fill="none" stroke="#7a7a7a" stroke-width="0.4"/>
<polyline points="138.5,152.9 142.0,151.0 147.0,152.0 148.6,160.7" fill="none" stroke="#7a7a7a" stroke-width="0.4"/>
<polyline points="153.3,132.0 155.0,138.0 157.9,140.0" fill="none" stroke="#7a7a7a" stroke-width="0.4"/>
<polyline points="160.3,180.0 162.0,186.0 164.4,192.4" fill="none" stroke="#7a7a7a" stroke-width="0.4"/>
<polyline points="144.8,162.4 146.0,175.0 145.8,185.0" fill="none" stroke="#7a7a7a" stroke-width="0.4"/>
<polyline points="81.6,20.5 103.3,20.5 103.3,59.5" fill="none" stroke="#505050" stroke-width="0.9"/>
<polyline points="58.3,90.7 110.2,90.7" fill="none" stroke="#505050" stroke-width="0.9"/>
<polyline points="190.8,17.9 218.5,17.9 218.5,67.0" fill="none" stroke="#505050" stroke-width="0.9"/>
<polyline points="231.4,30.2 231.4,55.5" fill="none" stroke="#505050" stroke-width="0.9"/>
<polyline points="294.6,46.6 294.6,77.7 230.0,77.7" fill="none" stroke="#505050" stroke-width="0.9"/>
<polyline points="211.0,72.3 230.5,72.3" fill="none" stroke="#505050" stroke-width="0.9"/>
<polyline points="183.4,83.7 223.5,83.7 223.5,79.0" fill="none" stroke="#505050" stroke-width="0.9"/>
<polyline points="194.1,124.0 218.2,124.0 218.2,90.0" fill="none" stroke="#505050" stroke-width="0.9"/>
<polyline points="210.7,161.3 257.8,161.3 257.8,103.0" fill="none" stroke="#505050" stroke-width="0.9"/>
<polyline points="291.4,123.7 291.4,107.0" fill="none" stroke="#505050" stroke-width="0.9"/>
<polyline points="311.5,162.9 311.5,113.0 305.0,113.0" fill="none" stroke="#505050" stroke-width="0.9"/>
<polyline points="336.5,96.3 386.5,96.3" fill="none" stroke="#505050" stroke-width="0.9"/>
<polyline points="328.5,124.5 355.7,124.5" fill="none" stroke="#505050" stroke-width="0.9"/>
<polyline points="362.5,182.5 399.9,182.5" fill="none" stroke="#505050" stroke-width="0.9"/>
<path d="M69.60,8.80 A12,12 0 0 1 81.01,17.09 L73.97,19.38 A4.6,4.6 0 0 0 69.60,16.20Z" fill="#F0E442" />
<path d="M81.01,17.09 A12,12 0 0 1 79.55,27.51 L73.41,23.37 A4.6,4.6 0 0 0 73.97,19.38Z" fill="#56B4E9" />
<path d="M79.55,27.51 A12,12 0 0 1 72.30,32.49 L70.63,25.28 A4.6,4.6 0 0 0 73.41,23.37Z" fill="#0072B2" />
<path d="M72.30,32.49 A12,12 0 0 1 61.57,29.72 L66.52,24.22 A4.6,4.6 0 0 0 70.63,25.28Z" fill="#D55E00" />
<path d="M61.57,29.72 A12,12 0 0 1 57.82,18.51 L65.08,19.92 A4.6,4.6 0 0 0 66.52,24.22Z" fill="#009E73" />
<path d="M57.82,18.51 A12,12 0 0 1 59.54,14.26 L65.74,18.29 A4.6,4.6 0 0 0 65.08,19.92Z" fill="#E69F00" />
<path d="M59.54,14.26 A12,12 0 0 1 67.11,9.06 L68.64,16.30 A4.6,4.6 0 0 0 65.74,18.29Z" fill="#333333" />
<path d="M67.11,9.06 A12,12 0 0 1 69.60,8.80 L69.60,16.20 A4.6,4.6 0 0 0 68.64,16.30Z" fill="#CC79A7" />
<text x="45.4" y="16.6" font-size="5.7" text-anchor="middle" font-weight="bold" fill="#2a2a2a" font-family="Liberation Sans" >Canada</text>
<text x="45.4" y="23.4" font-size="5.7" text-anchor="middle" font-weight="bold" fill="#2a2a2a" font-family="Liberation Sans" >n=111</text>
<path d="M103.30,59.10 A2.4,2.4 0 0 1 105.58,60.76 L104.17,61.22 A0.9119999999999999,0.9119999999999999 0 0 0 103.30,60.59Z" fill="#F0E442" />
<path d="M105.58,60.76 A2.4,2.4 0 0 1 105.29,62.84 L104.06,62.01 A0.9119999999999999,0.9119999999999999 0 0 0 104.17,61.22Z" fill="#56B4E9" />
<path d="M105.29,62.84 A2.4,2.4 0 0 1 103.84,63.84 L103.51,62.39 A0.9119999999999999,0.9119999999999999 0 0 0 104.06,62.01Z" fill="#0072B2" />
<path d="M103.84,63.84 A2.4,2.4 0 0 1 101.69,63.28 L102.69,62.18 A0.9119999999999999,0.9119999999999999 0 0 0 103.51,62.39Z" fill="#D55E00" />
<path d="M101.69,63.28 A2.4,2.4 0 0 1 100.94,61.04 L102.40,61.33 A0.9119999999999999,0.9119999999999999 0 0 0 102.69,62.18Z" fill="#009E73" />
<path d="M100.94,61.04 A2.4,2.4 0 0 1 101.29,60.19 L102.54,61.00 A0.9119999999999999,0.9119999999999999 0 0 0 102.40,61.33Z" fill="#E69F00" />
<path d="M101.29,60.19 A2.4,2.4 0 0 1 102.80,59.15 L103.11,60.61 A0.9119999999999999,0.9119999999999999 0 0 0 102.54,61.00Z" fill="#333333" />
<path d="M102.80,59.15 A2.4,2.4 0 0 1 103.30,59.10 L103.30,60.59 A0.9119999999999999,0.9119999999999999 0 0 0 103.11,60.61Z" fill="#CC79A7" />
<path d="M46.20,80.20 A12.1,12.1 0 0 1 56.23,99.07 L49.93,94.82 A4.5,4.5 0 0 0 46.20,87.80Z" fill="#F0E442" />
<path d="M56.23,99.07 A12.1,12.1 0 0 1 48.41,104.20 L47.02,96.72 A4.5,4.5 0 0 0 49.93,94.82Z" fill="#56B4E9" />
<path d="M48.41,104.20 A12.1,12.1 0 0 1 35.80,98.48 L42.33,94.60 A4.5,4.5 0 0 0 47.02,96.72Z" fill="#0072B2" />
<path d="M35.80,98.48 A12.1,12.1 0 0 1 34.80,96.36 L41.96,93.81 A4.5,4.5 0 0 0 42.33,94.60Z" fill="#D55E00" />
<path d="M34.80,96.36 A12.1,12.1 0 0 1 34.93,87.88 L42.01,90.66 A4.5,4.5 0 0 0 41.96,93.81Z" fill="#009E73" />
<path d="M34.93,87.88 A12.1,12.1 0 0 1 39.28,82.38 L43.63,88.61 A4.5,4.5 0 0 0 42.01,90.66Z" fill="#E69F00" />
<path d="M39.28,82.38 A12.1,12.1 0 0 1 45.15,80.25 L45.81,87.82 A4.5,4.5 0 0 0 43.63,88.61Z" fill="#333333" />
<path d="M45.15,80.25 A12.1,12.1 0 0 1 46.20,80.20 L46.20,87.80 A4.5,4.5 0 0 0 45.81,87.82Z" fill="#CC79A7" />
<text x="45.8" y="72" font-size="5.7" text-anchor="middle" font-weight="bold" fill="#2a2a2a" font-family="Liberation Sans" >USA</text>
<text x="45.8" y="78.8" font-size="5.7" text-anchor="middle" font-weight="bold" fill="#2a2a2a" font-family="Liberation Sans" >n=870</text>
<path d="M112.00,87.00 A2.9,2.9 0 0 1 114.40,91.52 L112.91,90.52 A1.1019999999999999,1.1019999999999999 0 0 0 112.00,88.80Z" fill="#F0E442" />
<path d="M114.40,91.52 A2.9,2.9 0 0 1 112.53,92.75 L112.20,90.98 A1.1019999999999999,1.1019999999999999 0 0 0 112.91,90.52Z" fill="#56B4E9" />
<path d="M112.53,92.75 A2.9,2.9 0 0 1 109.51,91.38 L111.05,90.46 A1.1019999999999999,1.1019999999999999 0 0 0 112.20,90.98Z" fill="#0072B2" />
<path d="M109.51,91.38 A2.9,2.9 0 0 1 109.27,90.87 L110.96,90.27 A1.1019999999999999,1.1019999999999999 0 0 0 111.05,90.46Z" fill="#D55E00" />
<path d="M109.27,90.87 A2.9,2.9 0 0 1 109.30,88.84 L110.97,89.50 A1.1019999999999999,1.1019999999999999 0 0 0 110.96,90.27Z" fill="#009E73" />
<path d="M109.30,88.84 A2.9,2.9 0 0 1 110.34,87.52 L111.37,89.00 A1.1019999999999999,1.1019999999999999 0 0 0 110.97,89.50Z" fill="#E69F00" />
<path d="M110.34,87.52 A2.9,2.9 0 0 1 111.75,87.01 L111.90,88.80 A1.1019999999999999,1.1019999999999999 0 0 0 111.37,89.00Z" fill="#333333" />
<path d="M111.75,87.01 A2.9,2.9 0 0 1 112.00,87.00 L112.00,88.80 A1.1019999999999999,1.1019999999999999 0 0 0 111.90,88.80Z" fill="#CC79A7" />
<path d="M179.80,7.80 A11,11 0 0 1 188.10,11.58 L183.05,15.98 A4.3,4.3 0 0 0 179.80,14.50Z" fill="#F0E442" />
<path d="M188.10,11.58 A11,11 0 0 1 189.57,23.86 L183.62,20.78 A4.3,4.3 0 0 0 183.05,15.98Z" fill="#56B4E9" />
<path d="M189.57,23.86 A11,11 0 0 1 179.80,29.80 L179.80,23.10 A4.3,4.3 0 0 0 183.62,20.78Z" fill="#0072B2" />
<path d="M179.80,29.80 A11,11 0 0 1 168.80,18.55 L175.50,18.70 A4.3,4.3 0 0 0 179.80,23.10Z" fill="#D55E00" />
<path d="M168.80,18.55 A11,11 0 0 1 173.52,9.77 L177.35,15.27 A4.3,4.3 0 0 0 175.50,18.70Z" fill="#009E73" />
<path d="M173.52,9.77 A11,11 0 0 1 173.81,9.57 L177.46,15.19 A4.3,4.3 0 0 0 177.35,15.27Z" fill="#E69F00" />
<path d="M173.81,9.57 A11,11 0 0 1 177.29,8.09 L178.82,14.61 A4.3,4.3 0 0 0 177.46,15.19Z" fill="#333333" />
<path d="M177.29,8.09 A11,11 0 0 1 179.80,7.80 L179.80,14.50 A4.3,4.3 0 0 0 178.82,14.61Z" fill="#CC79A7" />
<text x="167" y="5.3" font-size="5.7" text-anchor="middle" font-weight="bold" fill="#2a2a2a" font-family="Liberation Sans" >United Kingdom</text>
<text x="158.8" y="12.3" font-size="5.7" text-anchor="middle" font-weight="bold" fill="#2a2a2a" font-family="Liberation Sans" >n=510</text>
<path d="M218.20,66.45 A2.15,2.15 0 0 1 219.82,67.19 L218.82,68.06 A0.817,0.817 0 0 0 218.20,67.78Z" fill="#F0E442" />
<path d="M219.82,67.19 A2.15,2.15 0 0 1 220.11,69.59 L218.93,68.98 A0.817,0.817 0 0 0 218.82,68.06Z" fill="#56B4E9" />
<path d="M220.11,69.59 A2.15,2.15 0 0 1 218.20,70.75 L218.20,69.42 A0.817,0.817 0 0 0 218.93,68.98Z" fill="#0072B2" />
<path d="M218.20,70.75 A2.15,2.15 0 0 1 216.05,68.55 L217.38,68.58 A0.817,0.817 0 0 0 218.20,69.42Z" fill="#D55E00" />
<path d="M216.05,68.55 A2.15,2.15 0 0 1 216.97,66.83 L217.73,67.93 A0.817,0.817 0 0 0 217.38,68.58Z" fill="#009E73" />
<path d="M216.97,66.83 A2.15,2.15 0 0 1 217.03,66.80 L217.76,67.91 A0.817,0.817 0 0 0 217.73,67.93Z" fill="#E69F00" />
<path d="M217.03,66.80 A2.15,2.15 0 0 1 217.71,66.51 L218.01,67.80 A0.817,0.817 0 0 0 217.76,67.91Z" fill="#333333" />
<path d="M217.71,66.51 A2.15,2.15 0 0 1 218.20,66.45 L218.20,67.78 A0.817,0.817 0 0 0 218.01,67.80Z" fill="#CC79A7" />
<path d="M231.20,7.80 A11.2,11.2 0 0 1 242.37,18.16 L235.29,18.69 A4.1,4.1 0 0 0 231.20,14.90Z" fill="#F0E442" />
<path d="M242.37,18.16 A11.2,11.2 0 0 1 233.26,30.01 L231.95,23.03 A4.1,4.1 0 0 0 235.29,18.69Z" fill="#56B4E9" />
<path d="M233.26,30.01 A11.2,11.2 0 0 1 231.20,30.20 L231.20,23.10 A4.1,4.1 0 0 0 231.95,23.03Z" fill="#0072B2" />
<path d="M231.20,30.20 A11.2,11.2 0 0 1 220.35,21.77 L227.23,20.01 A4.1,4.1 0 0 0 231.20,23.10Z" fill="#D55E00" />
<path d="M220.35,21.77 A11.2,11.2 0 0 1 221.52,13.37 L227.66,16.94 A4.1,4.1 0 0 0 227.23,20.01Z" fill="#009E73" />
<path d="M221.52,13.37 A11.2,11.2 0 0 1 223.39,10.97 L228.34,16.06 A4.1,4.1 0 0 0 227.66,16.94Z" fill="#E69F00" />
<path d="M223.39,10.97 A11.2,11.2 0 0 1 229.51,7.93 L230.58,14.95 A4.1,4.1 0 0 0 228.34,16.06Z" fill="#333333" />
<path d="M229.51,7.93 A11.2,11.2 0 0 1 231.20,7.80 L231.20,14.90 A4.1,4.1 0 0 0 230.58,14.95Z" fill="#CC79A7" />
<text x="250.2" y="9.1" font-size="5.7" text-anchor="middle" font-weight="bold" fill="#2a2a2a" font-family="Liberation Sans" >Norway</text>
<text x="250.9" y="15.9" font-size="5.7" text-anchor="middle" font-weight="bold" fill="#2a2a2a" font-family="Liberation Sans" >n=106</text>
<path d="M231.50,54.35 A2.15,2.15 0 0 1 233.64,56.34 L232.31,56.44 A0.817,0.817 0 0 0 231.50,55.68Z" fill="#F0E442" />
<path d="M233.64,56.34 A2.15,2.15 0 0 1 231.90,58.61 L231.65,57.30 A0.817,0.817 0 0 0 232.31,56.44Z" fill="#56B4E9" />
<path d="M231.90,58.61 A2.15,2.15 0 0 1 231.50,58.65 L231.50,57.32 A0.817,0.817 0 0 0 231.65,57.30Z" fill="#0072B2" />
<path d="M231.50,58.65 A2.15,2.15 0 0 1 229.42,57.03 L230.71,56.70 A0.817,0.817 0 0 0 231.50,57.32Z" fill="#D55E00" />
<path d="M229.42,57.03 A2.15,2.15 0 0 1 229.64,55.42 L230.79,56.09 A0.817,0.817 0 0 0 230.71,56.70Z" fill="#009E73" />
<path d="M229.64,55.42 A2.15,2.15 0 0 1 230.00,54.96 L230.93,55.91 A0.817,0.817 0 0 0 230.79,56.09Z" fill="#E69F00" />
<path d="M230.00,54.96 A2.15,2.15 0 0 1 231.17,54.37 L231.38,55.69 A0.817,0.817 0 0 0 230.93,55.91Z" fill="#333333" />
<path d="M231.17,54.37 A2.15,2.15 0 0 1 231.50,54.35 L231.50,55.68 A0.817,0.817 0 0 0 231.38,55.69Z" fill="#CC79A7" />
<path d="M294.60,23.70 A11.5,11.5 0 0 1 304.05,41.75 L297.97,37.53 A4.1,4.1 0 0 0 294.60,31.10Z" fill="#F0E442" />
<path d="M304.05,41.75 A11.5,11.5 0 0 1 291.10,46.16 L293.35,39.11 A4.1,4.1 0 0 0 297.97,37.53Z" fill="#56B4E9" />
<path d="M291.10,46.16 A11.5,11.5 0 0 1 288.90,45.19 L292.57,38.76 A4.1,4.1 0 0 0 293.35,39.11Z" fill="#0072B2" />
<path d="M288.90,45.19 A11.5,11.5 0 0 1 285.00,41.53 L291.18,37.46 A4.1,4.1 0 0 0 292.57,38.76Z" fill="#D55E00" />
<path d="M285.00,41.53 A11.5,11.5 0 0 1 283.10,34.96 L290.50,35.11 A4.1,4.1 0 0 0 291.18,37.46Z" fill="#009E73" />
<path d="M283.10,34.96 A11.5,11.5 0 0 1 288.30,25.58 L292.35,31.77 A4.1,4.1 0 0 0 290.50,35.11Z" fill="#E69F00" />
<path d="M288.30,25.58 A11.5,11.5 0 0 1 294.60,23.70 L294.60,31.10 A4.1,4.1 0 0 0 292.35,31.77Z" fill="#333333" />
<text x="295.6" y="13.7" font-size="5.7" text-anchor="middle" font-weight="bold" fill="#2a2a2a" font-family="Liberation Sans" >Switzerland</text>
<text x="292.4" y="20.7" font-size="5.7" text-anchor="middle" font-weight="bold" fill="#2a2a2a" font-family="Liberation Sans" >n=58</text>
<path d="M229.80,75.45 A2.15,2.15 0 0 1 231.57,78.82 L230.47,78.07 A0.817,0.817 0 0 0 229.80,76.78Z" fill="#F0E442" />
<path d="M231.57,78.82 A2.15,2.15 0 0 1 229.15,79.65 L229.55,78.38 A0.817,0.817 0 0 0 230.47,78.07Z" fill="#56B4E9" />
<path d="M229.15,79.65 A2.15,2.15 0 0 1 228.73,79.47 L229.40,78.31 A0.817,0.817 0 0 0 229.55,78.38Z" fill="#0072B2" />
<path d="M228.73,79.47 A2.15,2.15 0 0 1 228.01,78.78 L229.12,78.05 A0.817,0.817 0 0 0 229.40,78.31Z" fill="#D55E00" />
<path d="M228.01,78.78 A2.15,2.15 0 0 1 227.65,77.55 L228.98,77.58 A0.817,0.817 0 0 0 229.12,78.05Z" fill="#009E73" />
<path d="M227.65,77.55 A2.15,2.15 0 0 1 228.62,75.80 L229.35,76.92 A0.817,0.817 0 0 0 228.98,77.58Z" fill="#E69F00" />
<path d="M228.62,75.80 A2.15,2.15 0 0 1 229.80,75.45 L229.80,76.78 A0.817,0.817 0 0 0 229.35,76.92Z" fill="#333333" />
<path d="M200.30,61.90 A10.7,10.7 0 0 1 208.89,66.22 L203.51,70.22 A4,4 0 0 0 200.30,68.60Z" fill="#F0E442" />
<path d="M208.89,66.22 A10.7,10.7 0 0 1 209.87,67.81 L203.88,70.81 A4,4 0 0 0 203.51,70.22Z" fill="#56B4E9" />
<path d="M209.87,67.81 A10.7,10.7 0 0 1 210.99,73.16 L204.29,72.81 A4,4 0 0 0 203.88,70.81Z" fill="#0072B2" />
<path d="M210.99,73.16 A10.7,10.7 0 0 1 200.30,83.30 L200.30,76.60 A4,4 0 0 0 204.29,72.81Z" fill="#D55E00" />
<path d="M200.30,83.30 A10.7,10.7 0 0 1 190.86,77.64 L196.77,74.48 A4,4 0 0 0 200.30,76.60Z" fill="#009E73" />
<path d="M190.86,77.64 A10.7,10.7 0 0 1 189.66,73.77 L196.32,73.04 A4,4 0 0 0 196.77,74.48Z" fill="#E69F00" />
<path d="M189.66,73.77 A10.7,10.7 0 0 1 189.76,70.78 L196.36,71.92 A4,4 0 0 0 196.32,73.04Z" fill="#333333" />
<path d="M189.76,70.78 A10.7,10.7 0 0 1 200.30,61.90 L200.30,68.60 A4,4 0 0 0 196.36,71.92Z" fill="#CC79A7" />
<text x="199.8" y="53.1" font-size="5.7" text-anchor="middle" font-weight="bold" fill="#2a2a2a" font-family="Liberation Sans" >Germany</text>
<text x="200" y="59.8" font-size="5.7" text-anchor="middle" font-weight="bold" fill="#2a2a2a" font-family="Liberation Sans" >n=51</text>
<path d="M231.70,70.35 A2.15,2.15 0 0 1 233.43,71.22 L232.36,72.01 A0.817,0.817 0 0 0 231.70,71.68Z" fill="#F0E442" />
<path d="M233.43,71.22 A2.15,2.15 0 0 1 233.62,71.54 L232.43,72.13 A0.817,0.817 0 0 0 232.36,72.01Z" fill="#56B4E9" />
<path d="M233.62,71.54 A2.15,2.15 0 0 1 233.85,72.61 L232.52,72.54 A0.817,0.817 0 0 0 232.43,72.13Z" fill="#0072B2" />
<path d="M233.85,72.61 A2.15,2.15 0 0 1 231.70,74.65 L231.70,73.32 A0.817,0.817 0 0 0 232.52,72.54Z" fill="#D55E00" />
<path d="M231.70,74.65 A2.15,2.15 0 0 1 229.80,73.51 L230.98,72.88 A0.817,0.817 0 0 0 231.70,73.32Z" fill="#009E73" />
<path d="M229.80,73.51 A2.15,2.15 0 0 1 229.56,72.74 L230.89,72.59 A0.817,0.817 0 0 0 230.98,72.88Z" fill="#E69F00" />
<path d="M229.56,72.74 A2.15,2.15 0 0 1 229.58,72.13 L230.89,72.36 A0.817,0.817 0 0 0 230.89,72.59Z" fill="#333333" />
<path d="M229.58,72.13 A2.15,2.15 0 0 1 231.70,70.35 L231.70,71.68 A0.817,0.817 0 0 0 230.89,72.36Z" fill="#CC79A7" />
<path d="M171.50,72.70 A11.8,11.8 0 0 1 179.24,75.59 L174.45,81.10 A4.5,4.5 0 0 0 171.50,80.00Z" fill="#F0E442" />
<path d="M179.24,75.59 A11.8,11.8 0 0 1 182.88,87.61 L175.84,85.69 A4.5,4.5 0 0 0 174.45,81.10Z" fill="#56B4E9" />
<path d="M182.88,87.61 A11.8,11.8 0 0 1 180.86,91.68 L175.07,87.24 A4.5,4.5 0 0 0 175.84,85.69Z" fill="#0072B2" />
<path d="M180.86,91.68 A11.8,11.8 0 0 1 167.41,95.57 L169.94,88.72 A4.5,4.5 0 0 0 175.07,87.24Z" fill="#D55E00" />
<path d="M167.41,95.57 A11.8,11.8 0 0 1 164.85,94.25 L168.96,88.22 A4.5,4.5 0 0 0 169.94,88.72Z" fill="#009E73" />
<path d="M164.85,94.25 A11.8,11.8 0 0 1 160.38,80.54 L167.26,82.99 A4.5,4.5 0 0 0 168.96,88.22Z" fill="#E69F00" />
<path d="M160.38,80.54 A11.8,11.8 0 0 1 161.18,78.78 L167.56,82.32 A4.5,4.5 0 0 0 167.26,82.99Z" fill="#333333" />
<path d="M161.18,78.78 A11.8,11.8 0 0 1 171.50,72.70 L171.50,80.00 A4.5,4.5 0 0 0 167.56,82.32Z" fill="#CC79A7" />
<text x="172.4" y="64.3" font-size="5.7" text-anchor="middle" font-weight="bold" fill="#2a2a2a" font-family="Liberation Sans" >France</text>
<text x="172.6" y="71.1" font-size="5.7" text-anchor="middle" font-weight="bold" fill="#2a2a2a" font-family="Liberation Sans" >n=305</text>
<path d="M223.60,75.75 A2.15,2.15 0 0 1 225.01,76.28 L224.14,77.28 A0.817,0.817 0 0 0 223.60,77.08Z" fill="#F0E442" />
<path d="M225.01,76.28 A2.15,2.15 0 0 1 225.67,78.47 L224.39,78.12 A0.817,0.817 0 0 0 224.14,77.28Z" fill="#56B4E9" />
<path d="M225.67,78.47 A2.15,2.15 0 0 1 225.31,79.21 L224.25,78.40 A0.817,0.817 0 0 0 224.39,78.12Z" fill="#0072B2" />
<path d="M225.31,79.21 A2.15,2.15 0 0 1 222.85,79.92 L223.32,78.67 A0.817,0.817 0 0 0 224.25,78.40Z" fill="#D55E00" />
<path d="M222.85,79.92 A2.15,2.15 0 0 1 222.39,79.68 L223.14,78.57 A0.817,0.817 0 0 0 223.32,78.67Z" fill="#009E73" />
<path d="M222.39,79.68 A2.15,2.15 0 0 1 221.57,77.18 L222.83,77.63 A0.817,0.817 0 0 0 223.14,78.57Z" fill="#E69F00" />
<path d="M221.57,77.18 A2.15,2.15 0 0 1 221.72,76.86 L222.89,77.50 A0.817,0.817 0 0 0 222.83,77.63Z" fill="#333333" />
<path d="M221.72,76.86 A2.15,2.15 0 0 1 223.60,75.75 L223.60,77.08 A0.817,0.817 0 0 0 222.89,77.50Z" fill="#CC79A7" />
<path d="M183.40,114.80 A10.7,10.7 0 0 1 186.39,115.22 L184.57,121.47 A4.2,4.2 0 0 0 183.40,121.30Z" fill="#56B4E9" />
<path d="M186.39,115.22 A10.7,10.7 0 0 1 184.70,136.12 L183.91,129.67 A4.2,4.2 0 0 0 184.57,121.47Z" fill="#0072B2" />
<path d="M184.70,136.12 A10.7,10.7 0 0 1 182.32,136.15 L182.98,129.68 A4.2,4.2 0 0 0 183.91,129.67Z" fill="#D55E00" />
<path d="M182.32,136.15 A10.7,10.7 0 0 1 178.66,135.09 L181.54,129.27 A4.2,4.2 0 0 0 182.98,129.68Z" fill="#009E73" />
<path d="M178.66,135.09 A10.7,10.7 0 0 1 174.33,131.17 L179.84,127.73 A4.2,4.2 0 0 0 181.54,129.27Z" fill="#333333" />
<path d="M174.33,131.17 A10.7,10.7 0 0 1 183.40,114.80 L183.40,121.30 A4.2,4.2 0 0 0 179.84,127.73Z" fill="#CC79A7" />
<text x="182.6" y="106.6" font-size="5.7" text-anchor="middle" font-weight="bold" fill="#2a2a2a" font-family="Liberation Sans" >Spain</text>
<text x="182.7" y="113.4" font-size="5.7" text-anchor="middle" font-weight="bold" fill="#2a2a2a" font-family="Liberation Sans" >n=78</text>
<path d="M218.20,87.35 A2.15,2.15 0 0 1 218.80,87.44 L218.43,88.72 A0.817,0.817 0 0 0 218.20,88.68Z" fill="#56B4E9" />
<path d="M218.80,87.44 A2.15,2.15 0 0 1 218.46,91.63 L218.30,90.31 A0.817,0.817 0 0 0 218.43,88.72Z" fill="#0072B2" />
<path d="M218.46,91.63 A2.15,2.15 0 0 1 217.98,91.64 L218.12,90.31 A0.817,0.817 0 0 0 218.30,90.31Z" fill="#D55E00" />
<path d="M217.98,91.64 A2.15,2.15 0 0 1 217.25,91.43 L217.84,90.23 A0.817,0.817 0 0 0 218.12,90.31Z" fill="#009E73" />
<path d="M217.25,91.43 A2.15,2.15 0 0 1 216.38,90.64 L217.51,89.93 A0.817,0.817 0 0 0 217.84,90.23Z" fill="#333333" />
<path d="M216.38,90.64 A2.15,2.15 0 0 1 218.20,87.35 L218.20,88.68 A0.817,0.817 0 0 0 217.51,89.93Z" fill="#CC79A7" />
<path d="M199.60,151.50 A11.1,11.1 0 0 1 210.64,161.48 L203.78,162.18 A4.2,4.2 0 0 0 199.60,158.40Z" fill="#F0E442" />
<path d="M210.64,161.48 A11.1,11.1 0 1 1 190.68,156.00 L196.22,160.10 A4.2,4.2 0 1 0 203.78,162.18Z" fill="#56B4E9" />
<path d="M190.68,156.00 A11.1,11.1 0 0 1 192.36,154.18 L196.86,159.42 A4.2,4.2 0 0 0 196.22,160.10Z" fill="#0072B2" />
<path d="M192.36,154.18 A11.1,11.1 0 0 1 194.63,152.67 L197.72,158.84 A4.2,4.2 0 0 0 196.86,159.42Z" fill="#D55E00" />
<path d="M194.63,152.67 A11.1,11.1 0 0 1 196.35,151.99 L198.37,158.58 A4.2,4.2 0 0 0 197.72,158.84Z" fill="#009E73" />
<path d="M196.35,151.99 A11.1,11.1 0 0 1 197.48,151.70 L198.80,158.48 A4.2,4.2 0 0 0 198.37,158.58Z" fill="#E69F00" />
<path d="M197.48,151.70 A11.1,11.1 0 0 1 198.06,151.61 L199.02,158.44 A4.2,4.2 0 0 0 198.80,158.48Z" fill="#333333" />
<path d="M198.06,151.61 A11.1,11.1 0 0 1 199.60,151.50 L199.60,158.40 A4.2,4.2 0 0 0 199.02,158.44Z" fill="#CC79A7" />
<text x="198" y="142.5" font-size="5.7" text-anchor="middle" font-weight="bold" fill="#2a2a2a" font-family="Liberation Sans" >Israel</text>
<text x="198.7" y="149.2" font-size="5.7" text-anchor="middle" font-weight="bold" fill="#2a2a2a" font-family="Liberation Sans" >n=101</text>
<path d="M257.70,99.35 A2.15,2.15 0 0 1 259.84,101.28 L258.51,101.42 A0.817,0.817 0 0 0 257.70,100.68Z" fill="#F0E442" />
<path d="M259.84,101.28 A2.15,2.15 0 1 1 255.97,100.22 L257.04,101.01 A0.817,0.817 0 1 0 258.51,101.42Z" fill="#56B4E9" />
<path d="M255.97,100.22 A2.15,2.15 0 0 1 256.30,99.87 L257.17,100.88 A0.817,0.817 0 0 0 257.04,101.01Z" fill="#0072B2" />
<path d="M256.30,99.87 A2.15,2.15 0 0 1 256.74,99.58 L257.33,100.77 A0.817,0.817 0 0 0 257.17,100.88Z" fill="#D55E00" />
<path d="M256.74,99.58 A2.15,2.15 0 0 1 257.07,99.44 L257.46,100.72 A0.817,0.817 0 0 0 257.33,100.77Z" fill="#009E73" />
<path d="M257.07,99.44 A2.15,2.15 0 0 1 257.29,99.39 L257.54,100.70 A0.817,0.817 0 0 0 257.46,100.72Z" fill="#E69F00" />
<path d="M257.29,99.39 A2.15,2.15 0 0 1 257.40,99.37 L257.59,100.69 A0.817,0.817 0 0 0 257.54,100.70Z" fill="#333333" />
<path d="M257.40,99.37 A2.15,2.15 0 0 1 257.70,99.35 L257.70,100.68 A0.817,0.817 0 0 0 257.59,100.69Z" fill="#CC79A7" />
<path d="M291.50,123.70 A11.3,11.3 0 0 1 301.29,140.65 L295.22,137.15 A4.3,4.3 0 0 0 291.50,130.70Z" fill="#F0E442" />
<path d="M301.29,140.65 A11.3,11.3 0 0 1 281.09,139.40 L287.54,136.67 A4.3,4.3 0 0 0 295.22,137.15Z" fill="#56B4E9" />
<path d="M281.09,139.40 A11.3,11.3 0 0 1 283.08,127.47 L288.29,132.13 A4.3,4.3 0 0 0 287.54,136.67Z" fill="#009E73" />
<path d="M283.08,127.47 A11.3,11.3 0 0 1 287.29,124.52 L289.90,131.01 A4.3,4.3 0 0 0 288.29,132.13Z" fill="#E69F00" />
<path d="M287.29,124.52 A11.3,11.3 0 0 1 290.69,123.73 L291.19,130.71 A4.3,4.3 0 0 0 289.90,131.01Z" fill="#333333" />
<path d="M290.69,123.73 A11.3,11.3 0 0 1 291.50,123.70 L291.50,130.70 A4.3,4.3 0 0 0 291.19,130.71Z" fill="#CC79A7" />
<text x="291" y="152.6" font-size="5.7" text-anchor="middle" font-weight="bold" fill="#2a2a2a" font-family="Liberation Sans" >Pakistan</text>
<text x="290.1" y="159.2" font-size="5.7" text-anchor="middle" font-weight="bold" fill="#2a2a2a" font-family="Liberation Sans" >n=73</text>
<path d="M291.40,103.65 A2.15,2.15 0 0 1 293.26,106.88 L292.11,106.21 A0.817,0.817 0 0 0 291.40,104.98Z" fill="#F0E442" />
<path d="M293.26,106.88 A2.15,2.15 0 0 1 289.42,106.64 L290.65,106.12 A0.817,0.817 0 0 0 292.11,106.21Z" fill="#56B4E9" />
<path d="M289.42,106.64 A2.15,2.15 0 0 1 289.80,104.37 L290.79,105.26 A0.817,0.817 0 0 0 290.65,106.12Z" fill="#009E73" />
<path d="M289.80,104.37 A2.15,2.15 0 0 1 290.60,103.81 L291.10,105.04 A0.817,0.817 0 0 0 290.79,105.26Z" fill="#E69F00" />
<path d="M290.60,103.81 A2.15,2.15 0 0 1 291.25,103.66 L291.34,104.99 A0.817,0.817 0 0 0 291.10,105.04Z" fill="#333333" />
<path d="M291.25,103.66 A2.15,2.15 0 0 1 291.40,103.65 L291.40,104.98 A0.817,0.817 0 0 0 291.34,104.99Z" fill="#CC79A7" />
<path d="M311.80,162.90 A11.1,11.1 0 0 1 322.87,174.85 L315.99,174.32 A4.2,4.2 0 0 0 311.80,169.80Z" fill="#F0E442" />
<path d="M322.87,174.85 A11.1,11.1 0 0 1 313.04,185.03 L312.27,178.17 A4.2,4.2 0 0 0 315.99,174.32Z" fill="#56B4E9" />
<path d="M313.04,185.03 A11.1,11.1 0 0 1 310.81,185.06 L311.43,178.18 A4.2,4.2 0 0 0 312.27,178.17Z" fill="#0072B2" />
<path d="M310.81,185.06 A11.1,11.1 0 0 1 308.65,184.64 L310.61,178.03 A4.2,4.2 0 0 0 311.43,178.18Z" fill="#D55E00" />
<path d="M308.65,184.64 A11.1,11.1 0 0 1 300.78,172.67 L307.63,173.50 A4.2,4.2 0 0 0 310.61,178.03Z" fill="#009E73" />
<path d="M300.78,172.67 A11.1,11.1 0 0 1 304.13,165.98 L308.90,170.96 A4.2,4.2 0 0 0 307.63,173.50Z" fill="#E69F00" />
<path d="M304.13,165.98 A11.1,11.1 0 0 1 311.80,162.90 L311.80,169.80 A4.2,4.2 0 0 0 308.90,170.96Z" fill="#333333" />
<text x="311.8" y="192.7" font-size="5.7" text-anchor="middle" font-weight="bold" fill="#2a2a2a" font-family="Liberation Sans" >India</text>
<text x="312.4" y="199.2" font-size="5.7" text-anchor="middle" font-weight="bold" fill="#2a2a2a" font-family="Liberation Sans" >n=93</text>
<path d="M304.00,110.85 A2.15,2.15 0 0 1 306.14,113.16 L304.81,113.06 A0.817,0.817 0 0 0 304.00,112.18Z" fill="#F0E442" />
<path d="M306.14,113.16 A2.15,2.15 0 0 1 304.24,115.14 L304.09,113.81 A0.817,0.817 0 0 0 304.81,113.06Z" fill="#56B4E9" />
<path d="M304.24,115.14 A2.15,2.15 0 0 1 303.81,115.14 L303.93,113.81 A0.817,0.817 0 0 0 304.09,113.81Z" fill="#0072B2" />
<path d="M303.81,115.14 A2.15,2.15 0 0 1 303.39,115.06 L303.77,113.78 A0.817,0.817 0 0 0 303.93,113.81Z" fill="#D55E00" />
<path d="M303.39,115.06 A2.15,2.15 0 0 1 301.87,112.74 L303.19,112.90 A0.817,0.817 0 0 0 303.77,113.78Z" fill="#009E73" />
<path d="M301.87,112.74 A2.15,2.15 0 0 1 302.51,111.45 L303.44,112.41 A0.817,0.817 0 0 0 303.19,112.90Z" fill="#E69F00" />
<path d="M302.51,111.45 A2.15,2.15 0 0 1 304.00,110.85 L304.00,112.18 A0.817,0.817 0 0 0 303.44,112.41Z" fill="#333333" />
<path d="M398.40,84.00 A11.8,11.8 0 0 1 408.31,102.21 L402.26,98.30 A4.6,4.6 0 0 0 398.40,91.20Z" fill="#F0E442" />
<path d="M408.31,102.21 A11.8,11.8 0 0 1 396.03,107.36 L397.48,100.31 A4.6,4.6 0 0 0 402.26,98.30Z" fill="#56B4E9" />
<path d="M396.03,107.36 A11.8,11.8 0 0 1 386.66,97.03 L393.83,96.28 A4.6,4.6 0 0 0 397.48,100.31Z" fill="#0072B2" />
<path d="M386.66,97.03 A11.8,11.8 0 0 1 386.61,96.21 L393.80,95.96 A4.6,4.6 0 0 0 393.83,96.28Z" fill="#D55E00" />
<path d="M386.61,96.21 A11.8,11.8 0 0 1 387.61,91.02 L394.19,93.94 A4.6,4.6 0 0 0 393.80,95.96Z" fill="#009E73" />
<path d="M387.61,91.02 A11.8,11.8 0 0 1 390.66,86.89 L395.38,92.33 A4.6,4.6 0 0 0 394.19,93.94Z" fill="#E69F00" />
<path d="M390.66,86.89 A11.8,11.8 0 0 1 392.86,85.38 L396.24,91.74 A4.6,4.6 0 0 0 395.38,92.33Z" fill="#333333" />
<path d="M392.86,85.38 A11.8,11.8 0 0 1 398.40,84.00 L398.40,91.20 A4.6,4.6 0 0 0 396.24,91.74Z" fill="#CC79A7" />
<text x="397.6" y="75" font-size="5.7" text-anchor="middle" font-weight="bold" fill="#2a2a2a" font-family="Liberation Sans" >China</text>
<text x="397.8" y="82" font-size="5.7" text-anchor="middle" font-weight="bold" fill="#2a2a2a" font-family="Liberation Sans" >n=693</text>
<path d="M335.40,94.10 A2.4,2.4 0 0 1 337.42,97.80 L336.17,97.00 A0.9119999999999999,0.9119999999999999 0 0 0 335.40,95.59Z" fill="#F0E442" />
<path d="M337.42,97.80 A2.4,2.4 0 0 1 334.92,98.85 L335.22,97.39 A0.9119999999999999,0.9119999999999999 0 0 0 336.17,97.00Z" fill="#56B4E9" />
<path d="M334.92,98.85 A2.4,2.4 0 0 1 333.01,96.75 L334.49,96.60 A0.9119999999999999,0.9119999999999999 0 0 0 335.22,97.39Z" fill="#0072B2" />
<path d="M333.01,96.75 A2.4,2.4 0 0 1 333.00,96.58 L334.49,96.53 A0.9119999999999999,0.9119999999999999 0 0 0 334.49,96.60Z" fill="#D55E00" />
<path d="M333.00,96.58 A2.4,2.4 0 0 1 333.21,95.53 L334.57,96.13 A0.9119999999999999,0.9119999999999999 0 0 0 334.49,96.53Z" fill="#009E73" />
<path d="M333.21,95.53 A2.4,2.4 0 0 1 333.83,94.69 L334.80,95.81 A0.9119999999999999,0.9119999999999999 0 0 0 334.57,96.13Z" fill="#E69F00" />
<path d="M333.83,94.69 A2.4,2.4 0 0 1 334.27,94.38 L334.97,95.69 A0.9119999999999999,0.9119999999999999 0 0 0 334.80,95.81Z" fill="#333333" />
<path d="M334.27,94.38 A2.4,2.4 0 0 1 335.40,94.10 L335.40,95.59 A0.9119999999999999,0.9119999999999999 0 0 0 334.97,95.69Z" fill="#CC79A7" />
<path d="M366.80,113.15 A11.15,11.15 0 0 1 368.98,113.37 L367.60,120.28 A4.1,4.1 0 0 0 366.80,120.20Z" fill="#F0E442" />
<path d="M368.98,113.37 A11.15,11.15 0 1 1 356.96,129.55 L363.18,126.23 A4.1,4.1 0 1 0 367.60,120.28Z" fill="#56B4E9" />
<path d="M356.96,129.55 A11.15,11.15 0 0 1 355.74,125.74 L362.73,124.83 A4.1,4.1 0 0 0 363.18,126.23Z" fill="#0072B2" />
<path d="M355.74,125.74 A11.15,11.15 0 0 1 355.71,125.47 L362.72,124.73 A4.1,4.1 0 0 0 362.73,124.83Z" fill="#D55E00" />
<path d="M355.71,125.47 A11.15,11.15 0 0 1 358.21,117.19 L363.64,121.69 A4.1,4.1 0 0 0 362.72,124.73Z" fill="#009E73" />
<path d="M358.21,117.19 A11.15,11.15 0 0 1 365.15,113.27 L366.19,120.25 A4.1,4.1 0 0 0 363.64,121.69Z" fill="#E69F00" />
<path d="M365.15,113.27 A11.15,11.15 0 0 1 366.02,113.18 L366.51,120.21 A4.1,4.1 0 0 0 366.19,120.25Z" fill="#333333" />
<path d="M366.02,113.18 A11.15,11.15 0 0 1 366.80,113.15 L366.80,120.20 A4.1,4.1 0 0 0 366.51,120.21Z" fill="#CC79A7" />
<text x="365.2" y="104.4" font-size="5.7" text-anchor="middle" font-weight="bold" fill="#2a2a2a" font-family="Liberation Sans" >Thailand</text>
<text x="364.7" y="111" font-size="5.7" text-anchor="middle" font-weight="bold" fill="#2a2a2a" font-family="Liberation Sans" >n=193</text>
<path d="M327.00,122.25 A2.15,2.15 0 0 1 327.42,122.29 L327.16,123.60 A0.817,0.817 0 0 0 327.00,123.58Z" fill="#F0E442" />
<path d="M327.42,122.29 A2.15,2.15 0 1 1 325.10,125.41 L326.28,124.78 A0.817,0.817 0 1 0 327.16,123.60Z" fill="#56B4E9" />
<path d="M325.10,125.41 A2.15,2.15 0 0 1 324.87,124.68 L326.19,124.51 A0.817,0.817 0 0 0 326.28,124.78Z" fill="#0072B2" />
<path d="M324.87,124.68 A2.15,2.15 0 0 1 324.86,124.62 L326.19,124.49 A0.817,0.817 0 0 0 326.19,124.51Z" fill="#D55E00" />
<path d="M324.86,124.62 A2.15,2.15 0 0 1 325.34,123.03 L326.37,123.88 A0.817,0.817 0 0 0 326.19,124.49Z" fill="#009E73" />
<path d="M325.34,123.03 A2.15,2.15 0 0 1 326.68,122.27 L326.88,123.59 A0.817,0.817 0 0 0 326.37,123.88Z" fill="#E69F00" />
<path d="M326.68,122.27 A2.15,2.15 0 0 1 326.85,122.26 L326.94,123.58 A0.817,0.817 0 0 0 326.88,123.59Z" fill="#333333" />
<path d="M326.85,122.26 A2.15,2.15 0 0 1 327.00,122.25 L327.00,123.58 A0.817,0.817 0 0 0 326.94,123.58Z" fill="#CC79A7" />
<path d="M410.90,171.30 A11,11 0 0 1 417.11,173.22 L413.16,179.00 A4,4 0 0 0 410.90,178.30Z" fill="#F0E442" />
<path d="M417.11,173.22 A11,11 0 0 1 421.74,184.15 L414.84,182.97 A4,4 0 0 0 413.16,179.00Z" fill="#56B4E9" />
<path d="M421.74,184.15 A11,11 0 0 1 420.76,187.17 L414.49,184.07 A4,4 0 0 0 414.84,182.97Z" fill="#0072B2" />
<path d="M420.76,187.17 A11,11 0 0 1 401.49,188.00 L407.48,184.37 A4,4 0 0 0 414.49,184.07Z" fill="#D55E00" />
<path d="M401.49,188.00 A11,11 0 0 1 400.97,177.56 L407.29,180.58 A4,4 0 0 0 407.48,184.37Z" fill="#009E73" />
<path d="M400.97,177.56 A11,11 0 0 1 403.12,174.52 L408.07,179.47 A4,4 0 0 0 407.29,180.58Z" fill="#E69F00" />
<path d="M403.12,174.52 A11,11 0 0 1 409.14,171.44 L410.26,178.35 A4,4 0 0 0 408.07,179.47Z" fill="#333333" />
<path d="M409.14,171.44 A11,11 0 0 1 410.90,171.30 L410.90,178.30 A4,4 0 0 0 410.26,178.35Z" fill="#CC79A7" />
<text x="409.8" y="162" font-size="5.7" text-anchor="middle" font-weight="bold" fill="#2a2a2a" font-family="Liberation Sans" >Australia</text>
<text x="410.3" y="169.1" font-size="5.7" text-anchor="middle" font-weight="bold" fill="#2a2a2a" font-family="Liberation Sans" >n=278</text>
<path d="M361.40,180.85 A2.15,2.15 0 0 1 362.61,181.23 L361.86,182.33 A0.817,0.817 0 0 0 361.40,182.18Z" fill="#F0E442" />
<path d="M362.61,181.23 A2.15,2.15 0 0 1 363.52,183.36 L362.21,183.14 A0.817,0.817 0 0 0 361.86,182.33Z" fill="#56B4E9" />
<path d="M363.52,183.36 A2.15,2.15 0 0 1 363.33,183.95 L362.13,183.36 A0.817,0.817 0 0 0 362.21,183.14Z" fill="#0072B2" />
<path d="M363.33,183.95 A2.15,2.15 0 0 1 359.56,184.11 L360.70,183.42 A0.817,0.817 0 0 0 362.13,183.36Z" fill="#D55E00" />
<path d="M359.56,184.11 A2.15,2.15 0 0 1 359.46,182.07 L360.66,182.65 A0.817,0.817 0 0 0 360.70,183.42Z" fill="#009E73" />
<path d="M359.46,182.07 A2.15,2.15 0 0 1 359.88,181.48 L360.82,182.42 A0.817,0.817 0 0 0 360.66,182.65Z" fill="#E69F00" />
<path d="M359.88,181.48 A2.15,2.15 0 0 1 361.06,180.88 L361.27,182.19 A0.817,0.817 0 0 0 360.82,182.42Z" fill="#333333" />
<path d="M361.06,180.88 A2.15,2.15 0 0 1 361.40,180.85 L361.40,182.18 A0.817,0.817 0 0 0 361.27,182.19Z" fill="#CC79A7" />
<line x1="37.2" y1="70.6" x2="39.7" y2="70.6" stroke="#555" stroke-width="0.6"/>
<text x="1.3" y="16.2" font-size="12.6" text-anchor="start" font-weight="normal" fill="#111" font-family="Liberation Sans" >a</text>
<text x="456.0" y="18.2" font-size="12.6" text-anchor="start" font-weight="normal" fill="#111" font-family="Liberation Sans" >b</text>
<text x="0.2" y="245.3" font-size="12.6" text-anchor="start" font-weight="normal" fill="#111" font-family="Liberation Sans" >c</text>
<text x="49.9" y="147.8" font-size="6.4" text-anchor="middle" font-weight="bold" fill="#111" font-family="Liberation Sans" >MLST</text>
<rect x="35.90" y="155.70" width="8.20" height="4.20" fill="#CC79A7" />
<text x="47.9" y="160.0" font-size="6.1" text-anchor="start" font-weight="normal" fill="#333" font-family="Liberation Sans" >st10</text>
<rect x="35.90" y="165.50" width="8.20" height="4.20" fill="#333333" />
<text x="47.9" y="169.79999999999998" font-size="6.1" text-anchor="start" font-weight="normal" fill="#333" font-family="Liberation Sans" >st648</text>
<rect x="35.90" y="175.30" width="8.20" height="4.20" fill="#E69F00" />
<text x="47.9" y="179.6" font-size="6.1" text-anchor="start" font-weight="normal" fill="#333" font-family="Liberation Sans" >st361</text>
<rect x="35.90" y="185.20" width="8.20" height="4.20" fill="#009E73" />
<text x="47.9" y="189.5" font-size="6.1" text-anchor="start" font-weight="normal" fill="#333" font-family="Liberation Sans" >st405</text>
<rect x="35.90" y="194.70" width="8.20" height="4.20" fill="#D55E00" />
<text x="47.9" y="199.0" font-size="6.1" text-anchor="start" font-weight="normal" fill="#333" font-family="Liberation Sans" >st38</text>
<rect x="35.90" y="204.80" width="8.20" height="4.20" fill="#0072B2" />
<text x="47.9" y="209.1" font-size="6.1" text-anchor="start" font-weight="normal" fill="#333" font-family="Liberation Sans" >st131</text>
<rect x="35.90" y="214.20" width="8.20" height="4.20" fill="#56B4E9" />
<text x="47.9" y="218.5" font-size="6.1" text-anchor="start" font-weight="normal" fill="#333" font-family="Liberation Sans" >st410</text>
<rect x="35.90" y="224.60" width="8.20" height="4.20" fill="#F0E442" />
<text x="47.9" y="228.89999999999998" font-size="6.1" text-anchor="start" font-weight="normal" fill="#333" font-family="Liberation Sans" >st167</text>
<rect x="71.6" y="177.6" width="8.4" height="6.4" rx="1.3" fill="#6A96F0"/>
<text x="84.7" y="182.9" font-size="5.9" text-anchor="start" font-weight="normal" fill="#444" font-family="Liberation Sans" >801-1800</text>
<rect x="71.6" y="188.7" width="8.4" height="6.4" rx="1.3" fill="#7DA0F0"/>
<text x="84.7" y="194.0" font-size="5.9" text-anchor="start" font-weight="normal" fill="#444" font-family="Liberation Sans" >401-800</text>
<rect x="71.6" y="199.9" width="8.4" height="6.4" rx="1.3" fill="#93AEF0"/>
<text x="84.7" y="205.2" font-size="5.9" text-anchor="start" font-weight="normal" fill="#444" font-family="Liberation Sans" >201-400</text>
<rect x="71.6" y="211.1" width="8.4" height="6.4" rx="1.3" fill="#A9BFF2"/>
<text x="84.7" y="216.4" font-size="5.9" text-anchor="start" font-weight="normal" fill="#444" font-family="Liberation Sans" >101-200</text>
<rect x="71.6" y="222.2" width="8.4" height="6.4" rx="1.3" fill="#C2D1F4"/>
<text x="84.7" y="227.5" font-size="5.9" text-anchor="start" font-weight="normal" fill="#444" font-family="Liberation Sans" >51-100</text>
<defs><pattern id="chk" width="4.2" height="4.2" patternUnits="userSpaceOnUse"><rect width="4.2" height="4.2" fill="#fff"/><rect width="2.1" height="2.1" fill="#CC79A7"/><rect x="2.1" y="2.1" width="2.1" height="2.1" fill="#CC79A7"/></pattern><pattern id="chk2" width="1.6" height="1.6" patternUnits="userSpaceOnUse"><rect width="1.6" height="1.6" fill="#F3DCE9"/><rect width="0.8" height="0.8" fill="#DDA6C6"/><rect x="0.8" y="0.8" width="0.8" height="0.8" fill="#DDA6C6"/></pattern></defs>
<path d="M546.80,5.80 A67,67 0 0 1 597.74,116.32 L566.95,90.01 A26.5,26.5 0 0 0 546.80,46.30Z" fill="#56B4E9" />
<path d="M597.74,116.32 A67,67 0 0 1 540.10,139.46 L544.15,99.17 A26.5,26.5 0 0 0 566.95,90.01Z" fill="#0072B2" />
<path d="M540.10,139.46 A67,67 0 0 1 493.66,113.60 L525.78,88.94 A26.5,26.5 0 0 0 544.15,99.17Z" fill="#D55E00" />
<path d="M493.66,113.60 A67,67 0 0 1 480.20,65.48 L520.46,69.91 A26.5,26.5 0 0 0 525.78,88.94Z" fill="url(#chk)" />
<path d="M480.20,65.48 A67,67 0 0 1 519.34,11.68 L535.94,48.63 A26.5,26.5 0 0 0 520.46,69.91Z" fill="#E69F00" />
<path d="M519.34,11.68 A67,67 0 0 1 521.14,10.91 L536.65,48.32 A26.5,26.5 0 0 0 535.94,48.63Z" fill="#009E73" />
<path d="M521.14,10.91 A67,67 0 0 1 545.13,5.82 L546.14,46.31 A26.5,26.5 0 0 0 536.65,48.32Z" fill="#F0E442" />
<path d="M545.13,5.82 A67,67 0 0 1 545.97,5.81 L546.47,46.30 A26.5,26.5 0 0 0 546.14,46.31Z" fill="#CC79A7" />
<path d="M545.97,5.81 A67,67 0 0 1 546.80,5.80 L546.80,46.30 A26.5,26.5 0 0 0 546.47,46.30Z" fill="#333333" />
<text x="576" y="66.3" font-size="5.1" text-anchor="start" font-weight="bold" fill="#000" font-family="Liberation Serif" stroke="#000" stroke-width="0.12" >A, 36.63%</text>
<text x="550.6" y="115.5" font-size="5.1" text-anchor="start" font-weight="bold" fill="#000" font-family="Liberation Serif" stroke="#000" stroke-width="0.12" >B1, 15.50%</text>
<text x="507.7" y="115.5" font-size="5.1" text-anchor="start" font-weight="bold" fill="#000" font-family="Liberation Serif" stroke="#000" stroke-width="0.12" >B2, 13.12%</text>
<text x="486.4" y="88.1" font-size="5.1" text-anchor="start" font-weight="bold" fill="#000" font-family="Liberation Serif" stroke="#000" stroke-width="0.12" >C, 12.29%</text>
<text x="495.8" y="48.1" font-size="5.1" text-anchor="start" font-weight="bold" fill="#000" font-family="Liberation Serif" stroke="#000" stroke-width="0.12" >D, 16.71%</text>
<text x="502.4" y="30.2" font-size="5.1" text-anchor="start" font-weight="bold" fill="#000" font-family="Liberation Serif" stroke="#000" stroke-width="0.12" >E, 0.47%</text>
<text x="522.5" y="18.7" font-size="5.1" text-anchor="start" font-weight="bold" fill="#000" font-family="Liberation Serif" stroke="#000" stroke-width="0.12" >F, 5.92%</text>
<text x="553.9" y="17.7" font-size="5.1" text-anchor="start" font-weight="bold" fill="#000" font-family="Liberation Serif" stroke="#000" stroke-width="0.12" >G, 0.20%</text>
<text x="555" y="28" font-size="5.1" text-anchor="start" font-weight="bold" fill="#000" font-family="Liberation Serif" stroke="#000" stroke-width="0.12" >not detected,</text>
<text x="555" y="33.9" font-size="5.1" text-anchor="start" font-weight="bold" fill="#000" font-family="Liberation Serif" stroke="#000" stroke-width="0.12" >0.20%</text>
<polyline points="522.5,31.0 530.5,35.0" fill="none" stroke="#222" stroke-width="0.4"/>
<polyline points="546.8,13.0 553.0,16.0" fill="none" stroke="#222" stroke-width="0.4"/>
<polyline points="546.8,24.0 554.0,26.5" fill="none" stroke="#222" stroke-width="0.4"/>
<rect x="623.10" y="10.45" width="8.70" height="3.50" fill="#56B4E9" />
<rect x="623.10" y="22.15" width="8.70" height="3.50" fill="#0072B2" />
<rect x="623.10" y="32.95" width="8.70" height="3.50" fill="#D55E00" />
<rect x="623.10" y="43.05" width="8.70" height="3.50" fill="url(#chk2)" />
<rect x="623.10" y="53.85" width="8.70" height="3.50" fill="#E69F00" />
<rect x="623.10" y="64.15" width="8.70" height="3.50" fill="#009E73" />
<rect x="623.10" y="74.75" width="8.70" height="3.50" fill="#F0E442" />
<rect x="623.10" y="85.05" width="8.70" height="3.50" fill="#CC79A7" />
<rect x="623.10" y="94.55" width="8.70" height="3.50" fill="#333333" />
<text x="638" y="16.1" font-size="8.15" text-anchor="start" font-weight="normal" fill="#222" font-family="Liberation Sans" stroke="#222" stroke-width="0.15" >A</text>
<text x="638" y="28.5" font-size="8.15" text-anchor="start" font-weight="normal" fill="#222" font-family="Liberation Sans" stroke="#222" stroke-width="0.15" >B1</text>
<text x="638" y="40.5" font-size="8.15" text-anchor="start" font-weight="normal" fill="#222" font-family="Liberation Sans" stroke="#222" stroke-width="0.15" >B2</text>
<text x="638" y="52.699999999999996" font-size="8.15" text-anchor="start" font-weight="normal" fill="#222" font-family="Liberation Sans" stroke="#222" stroke-width="0.15" >C</text>
<text x="638" y="64.3" font-size="8.15" text-anchor="start" font-weight="normal" fill="#222" font-family="Liberation Sans" stroke="#222" stroke-width="0.15" >D</text>
<text x="638" y="76.0" font-size="8.15" text-anchor="start" font-weight="normal" fill="#222" font-family="Liberation Sans" stroke="#222" stroke-width="0.15" >E</text>
<text x="638" y="87.89999999999999" font-size="8.15" text-anchor="start" font-weight="normal" fill="#222" font-family="Liberation Sans" stroke="#222" stroke-width="0.15" >F</text>
<text x="638" y="99.6" font-size="8.15" text-anchor="start" font-weight="normal" fill="#222" font-family="Liberation Sans" stroke="#222" stroke-width="0.15" >Not detected</text>
<rect x="38.10" y="238.80" width="9.50" height="6.00" fill="#CC79A7" />
<rect x="38.10" y="244.80" width="9.50" height="5.90" fill="#333333" />
<rect x="38.10" y="250.70" width="9.50" height="2.10" fill="#E69F00" />
<rect x="38.10" y="252.80" width="9.50" height="6.90" fill="#009E73" />
<rect x="38.10" y="259.70" width="9.50" height="20.20" fill="#D55E00" />
<rect x="38.10" y="279.90" width="9.50" height="43.90" fill="#0072B2" />
<rect x="38.10" y="323.80" width="9.50" height="12.80" fill="#56B4E9" />
<rect x="38.10" y="336.60" width="9.50" height="9.90" fill="#F0E442" />
<rect x="52.48" y="238.80" width="9.50" height="12.20" fill="#CC79A7" />
<rect x="52.48" y="251.00" width="9.50" height="3.90" fill="#333333" />
<rect x="52.48" y="254.90" width="9.50" height="1.60" fill="#E69F00" />
<rect x="52.48" y="256.50" width="9.50" height="6.30" fill="#009E73" />
<rect x="52.48" y="262.80" width="9.50" height="17.10" fill="#D55E00" />
<rect x="52.48" y="279.90" width="9.50" height="18.90" fill="#0072B2" />
<rect x="52.48" y="298.80" width="9.50" height="33.10" fill="#56B4E9" />
<rect x="52.48" y="331.90" width="9.50" height="14.60" fill="#F0E442" />
<rect x="66.86" y="238.80" width="9.50" height="10.90" fill="#CC79A7" />
<rect x="66.86" y="249.70" width="9.50" height="2.10" fill="#333333" />
<rect x="66.86" y="251.80" width="9.50" height="2.80" fill="#E69F00" />
<rect x="66.86" y="254.60" width="9.50" height="12.00" fill="#009E73" />
<rect x="66.86" y="266.60" width="9.50" height="18.30" fill="#D55E00" />
<rect x="66.86" y="284.90" width="9.50" height="24.00" fill="#0072B2" />
<rect x="66.86" y="308.90" width="9.50" height="21.10" fill="#56B4E9" />
<rect x="66.86" y="330.00" width="9.50" height="16.50" fill="#F0E442" />
<rect x="81.24" y="238.80" width="9.50" height="4.50" fill="#CC79A7" />
<rect x="81.24" y="243.30" width="9.50" height="4.80" fill="#333333" />
<rect x="81.24" y="248.10" width="9.50" height="6.80" fill="#E69F00" />
<rect x="81.24" y="254.90" width="9.50" height="14.80" fill="#009E73" />
<rect x="81.24" y="269.70" width="9.50" height="9.00" fill="#D55E00" />
<rect x="81.24" y="278.70" width="9.50" height="16.30" fill="#0072B2" />
<rect x="81.24" y="295.00" width="9.50" height="33.00" fill="#56B4E9" />
<rect x="81.24" y="328.00" width="9.50" height="18.50" fill="#F0E442" />
<rect x="95.62" y="238.80" width="9.50" height="5.30" fill="#CC79A7" />
<rect x="95.62" y="244.10" width="9.50" height="4.60" fill="#333333" />
<rect x="95.62" y="248.70" width="9.50" height="2.30" fill="#E69F00" />
<rect x="95.62" y="251.00" width="9.50" height="11.00" fill="#009E73" />
<rect x="95.62" y="262.00" width="9.50" height="28.50" fill="#D55E00" />
<rect x="95.62" y="290.50" width="9.50" height="12.40" fill="#0072B2" />
<rect x="95.62" y="302.90" width="9.50" height="30.10" fill="#56B4E9" />
<rect x="95.62" y="333.00" width="9.50" height="13.50" fill="#F0E442" />
<rect x="110.00" y="238.80" width="9.50" height="5.30" fill="#CC79A7" />
<rect x="110.00" y="244.10" width="9.50" height="8.70" fill="#333333" />
<rect x="110.00" y="252.80" width="9.50" height="7.70" fill="#E69F00" />
<rect x="110.00" y="260.50" width="9.50" height="9.30" fill="#009E73" />
<rect x="110.00" y="269.80" width="9.50" height="7.00" fill="#D55E00" />
<rect x="110.00" y="276.80" width="9.50" height="15.90" fill="#0072B2" />
<rect x="110.00" y="292.70" width="9.50" height="21.70" fill="#56B4E9" />
<rect x="110.00" y="314.40" width="9.50" height="32.10" fill="#F0E442" />
<rect x="124.38" y="238.80" width="9.50" height="3.90" fill="#CC79A7" />
<rect x="124.38" y="242.70" width="9.50" height="10.10" fill="#333333" />
<rect x="124.38" y="252.80" width="9.50" height="8.00" fill="#E69F00" />
<rect x="124.38" y="260.80" width="9.50" height="17.40" fill="#009E73" />
<rect x="124.38" y="278.20" width="9.50" height="4.80" fill="#D55E00" />
<rect x="124.38" y="283.00" width="9.50" height="6.80" fill="#0072B2" />
<rect x="124.38" y="289.80" width="9.50" height="21.60" fill="#56B4E9" />
<rect x="124.38" y="311.40" width="9.50" height="35.10" fill="#F0E442" />
<rect x="138.76" y="238.80" width="9.50" height="4.20" fill="#CC79A7" />
<rect x="138.76" y="243.00" width="9.50" height="9.60" fill="#333333" />
<rect x="138.76" y="252.60" width="9.50" height="14.00" fill="#E69F00" />
<rect x="138.76" y="266.60" width="9.50" height="15.60" fill="#009E73" />
<rect x="138.76" y="282.20" width="9.50" height="6.90" fill="#D55E00" />
<rect x="138.76" y="289.10" width="9.50" height="7.90" fill="#0072B2" />
<rect x="138.76" y="297.00" width="9.50" height="24.80" fill="#56B4E9" />
<rect x="138.76" y="321.80" width="9.50" height="24.70" fill="#F0E442" />
<rect x="153.14" y="238.80" width="9.50" height="1.90" fill="#CC79A7" />
<rect x="153.14" y="240.70" width="9.50" height="12.10" fill="#333333" />
<rect x="153.14" y="252.80" width="9.50" height="22.30" fill="#E69F00" />
<rect x="153.14" y="275.10" width="9.50" height="6.40" fill="#009E73" />
<rect x="153.14" y="281.50" width="9.50" height="5.40" fill="#D55E00" />
<rect x="153.14" y="286.90" width="9.50" height="14.00" fill="#0072B2" />
<rect x="153.14" y="300.90" width="9.50" height="15.00" fill="#56B4E9" />
<rect x="153.14" y="315.90" width="9.50" height="30.60" fill="#F0E442" />
<rect x="167.52" y="238.80" width="9.50" height="2.60" fill="#CC79A7" />
<rect x="167.52" y="241.40" width="9.50" height="7.00" fill="#333333" />
<rect x="167.52" y="248.40" width="9.50" height="21.40" fill="#E69F00" />
<rect x="167.52" y="269.80" width="9.50" height="11.20" fill="#009E73" />
<rect x="167.52" y="281.00" width="9.50" height="1.60" fill="#D55E00" />
<rect x="167.52" y="282.60" width="9.50" height="14.70" fill="#0072B2" />
<rect x="167.52" y="297.30" width="9.50" height="10.90" fill="#56B4E9" />
<rect x="167.52" y="308.20" width="9.50" height="38.30" fill="#F0E442" />
<rect x="181.90" y="238.80" width="9.50" height="11.90" fill="#CC79A7" />
<rect x="181.90" y="250.70" width="9.50" height="4.20" fill="#333333" />
<rect x="181.90" y="254.90" width="9.50" height="4.70" fill="#E69F00" />
<rect x="181.90" y="259.60" width="9.50" height="11.80" fill="#009E73" />
<rect x="181.90" y="271.40" width="9.50" height="12.40" fill="#D55E00" />
<rect x="181.90" y="283.80" width="9.50" height="12.70" fill="#0072B2" />
<rect x="181.90" y="296.50" width="9.50" height="16.50" fill="#56B4E9" />
<rect x="181.90" y="313.00" width="9.50" height="33.50" fill="#F0E442" />
<polyline points="33.6,238.9 33.6,346.7 196.0,346.7" fill="none" stroke="#111" stroke-width="1.1"/>
<line x1="29.3" y1="239.2" x2="33.6" y2="239.2" stroke="#111" stroke-width="1.0"/>
<line x1="31.3" y1="249.95" x2="33.6" y2="249.95" stroke="#111" stroke-width="1.0"/>
<line x1="31.3" y1="260.7" x2="33.6" y2="260.7" stroke="#111" stroke-width="1.0"/>
<line x1="31.3" y1="271.45" x2="33.6" y2="271.45" stroke="#111" stroke-width="1.0"/>
<line x1="31.3" y1="282.2" x2="33.6" y2="282.2" stroke="#111" stroke-width="1.0"/>
<line x1="31.3" y1="292.95" x2="33.6" y2="292.95" stroke="#111" stroke-width="1.0"/>
<line x1="31.3" y1="303.7" x2="33.6" y2="303.7" stroke="#111" stroke-width="1.0"/>
<line x1="31.3" y1="314.45" x2="33.6" y2="314.45" stroke="#111" stroke-width="1.0"/>
<line x1="31.3" y1="325.2" x2="33.6" y2="325.2" stroke="#111" stroke-width="1.0"/>
<line x1="31.3" y1="335.95" x2="33.6" y2="335.95" stroke="#111" stroke-width="1.0"/>
<line x1="29.3" y1="346.7" x2="33.6" y2="346.7" stroke="#111" stroke-width="1.0"/>
<line x1="42.85" y1="346.7" x2="42.85" y2="351.3" stroke="#111" stroke-width="1.0"/>
<text x="45.8" y="358.3" font-size="8.3" font-weight="bold" text-anchor="end" fill="#111" font-family="Liberation Sans" transform="rotate(-45 45.8 358.3)">2013</text>
<line x1="57.230000000000004" y1="346.7" x2="57.230000000000004" y2="351.3" stroke="#111" stroke-width="1.0"/>
<text x="60.1" y="358.3" font-size="8.3" font-weight="bold" text-anchor="end" fill="#111" font-family="Liberation Sans" transform="rotate(-45 60.1 358.3)">2014</text>
<line x1="71.61" y1="346.7" x2="71.61" y2="351.3" stroke="#111" stroke-width="1.0"/>
<text x="74.5" y="358.3" font-size="8.3" font-weight="bold" text-anchor="end" fill="#111" font-family="Liberation Sans" transform="rotate(-45 74.5 358.3)">2015</text>
<line x1="85.99000000000001" y1="346.7" x2="85.99000000000001" y2="351.3" stroke="#111" stroke-width="1.0"/>
<text x="88.9" y="358.3" font-size="8.3" font-weight="bold" text-anchor="end" fill="#111" font-family="Liberation Sans" transform="rotate(-45 88.9 358.3)">2016</text>
<line x1="100.37" y1="346.7" x2="100.37" y2="351.3" stroke="#111" stroke-width="1.0"/>
<text x="103.3" y="358.3" font-size="8.3" font-weight="bold" text-anchor="end" fill="#111" font-family="Liberation Sans" transform="rotate(-45 103.3 358.3)">2017</text>
<line x1="114.75" y1="346.7" x2="114.75" y2="351.3" stroke="#111" stroke-width="1.0"/>
<text x="117.7" y="358.3" font-size="8.3" font-weight="bold" text-anchor="end" fill="#111" font-family="Liberation Sans" transform="rotate(-45 117.7 358.3)">2018</text>
<line x1="129.13" y1="346.7" x2="129.13" y2="351.3" stroke="#111" stroke-width="1.0"/>
<text x="132.0" y="358.3" font-size="8.3" font-weight="bold" text-anchor="end" fill="#111" font-family="Liberation Sans" transform="rotate(-45 132.0 358.3)">2019</text>
<line x1="143.51000000000002" y1="346.7" x2="143.51000000000002" y2="351.3" stroke="#111" stroke-width="1.0"/>
<text x="146.4" y="358.3" font-size="8.3" font-weight="bold" text-anchor="end" fill="#111" font-family="Liberation Sans" transform="rotate(-45 146.4 358.3)">2020</text>
<line x1="157.89000000000001" y1="346.7" x2="157.89000000000001" y2="351.3" stroke="#111" stroke-width="1.0"/>
<text x="160.8" y="358.3" font-size="8.3" font-weight="bold" text-anchor="end" fill="#111" font-family="Liberation Sans" transform="rotate(-45 160.8 358.3)">2021</text>
<line x1="172.27" y1="346.7" x2="172.27" y2="351.3" stroke="#111" stroke-width="1.0"/>
<text x="175.2" y="358.3" font-size="8.3" font-weight="bold" text-anchor="end" fill="#111" font-family="Liberation Sans" transform="rotate(-45 175.2 358.3)">2022</text>
<line x1="186.65" y1="346.7" x2="186.65" y2="351.3" stroke="#111" stroke-width="1.0"/>
<text x="189.6" y="358.3" font-size="8.3" font-weight="bold" text-anchor="end" fill="#111" font-family="Liberation Sans" transform="rotate(-45 189.6 358.3)">2023</text>
<text x="27.6" y="241.8" font-size="7.2" text-anchor="end" font-weight="bold" fill="#111" font-family="Liberation Sans" >100</text>
<text x="27.6" y="349.6" font-size="7.2" text-anchor="end" font-weight="bold" fill="#111" font-family="Liberation Sans" >0</text>
<text x="18.3" y="289.7" font-size="8.8" font-weight="bold" text-anchor="middle" fill="#111" font-family="Liberation Sans" transform="rotate(-90 18.3 289.7)">Percentage of ST</text>
<text x="114.4" y="385.7" font-size="8.8" text-anchor="middle" font-weight="bold" fill="#111" font-family="Liberation Sans" >Year</text>
<rect x="205.20" y="252.20" width="10.80" height="4.80" fill="#CC79A7" />
<text x="221" y="257.4" font-size="7.8" text-anchor="start" font-weight="normal" fill="#2a2a2a" font-family="Liberation Sans" stroke="#2a2a2a" stroke-width="0.1" >st10</text>
<rect x="205.20" y="264.50" width="10.80" height="4.80" fill="#333333" />
<text x="221" y="269.7" font-size="7.8" text-anchor="start" font-weight="normal" fill="#2a2a2a" font-family="Liberation Sans" stroke="#2a2a2a" stroke-width="0.1" >st648</text>
<rect x="205.20" y="277.50" width="10.80" height="4.80" fill="#E69F00" />
<text x="221" y="282.7" font-size="7.8" text-anchor="start" font-weight="normal" fill="#2a2a2a" font-family="Liberation Sans" stroke="#2a2a2a" stroke-width="0.1" >st361</text>
<rect x="205.20" y="290.20" width="10.80" height="4.80" fill="#009E73" />
<text x="221" y="295.40000000000003" font-size="7.8" text-anchor="start" font-weight="normal" fill="#2a2a2a" font-family="Liberation Sans" stroke="#2a2a2a" stroke-width="0.1" >st405</text>
<rect x="205.20" y="303.20" width="10.80" height="4.80" fill="#D55E00" />
<text x="221" y="308.40000000000003" font-size="7.8" text-anchor="start" font-weight="normal" fill="#2a2a2a" font-family="Liberation Sans" stroke="#2a2a2a" stroke-width="0.1" >st38</text>
<rect x="205.20" y="316.20" width="10.80" height="4.80" fill="#0072B2" />
<text x="221" y="321.40000000000003" font-size="7.8" text-anchor="start" font-weight="normal" fill="#2a2a2a" font-family="Liberation Sans" stroke="#2a2a2a" stroke-width="0.1" >st131</text>
<rect x="205.20" y="328.60" width="10.80" height="4.80" fill="#56B4E9" />
<text x="221" y="333.8" font-size="7.8" text-anchor="start" font-weight="normal" fill="#2a2a2a" font-family="Liberation Sans" stroke="#2a2a2a" stroke-width="0.1" >st410</text>
<rect x="205.20" y="341.90" width="10.80" height="4.80" fill="#F0E442" />
<text x="221" y="347.1" font-size="7.8" text-anchor="start" font-weight="normal" fill="#2a2a2a" font-family="Liberation Sans" stroke="#2a2a2a" stroke-width="0.1" >st167</text>
<rect x="296.60" y="301.00" width="9.40" height="2.60" fill="#CC79A7" />
<rect x="296.60" y="303.60" width="9.40" height="2.00" fill="#333333" />
<rect x="296.60" y="305.60" width="9.40" height="1.10" fill="#E69F00" />
<rect x="296.60" y="306.70" width="9.40" height="2.80" fill="#009E73" />
<rect x="296.60" y="309.50" width="9.40" height="8.30" fill="#D55E00" />
<rect x="296.60" y="317.80" width="9.40" height="18.00" fill="#0072B2" />
<rect x="296.60" y="335.80" width="9.40" height="5.00" fill="#56B4E9" />
<rect x="296.60" y="340.80" width="9.40" height="4.00" fill="#F0E442" />
<rect x="310.86" y="290.90" width="9.40" height="6.00" fill="#CC79A7" />
<rect x="310.86" y="296.90" width="9.40" height="2.00" fill="#333333" />
<rect x="310.86" y="298.90" width="9.40" height="1.10" fill="#E69F00" />
<rect x="310.86" y="300.00" width="9.40" height="2.80" fill="#009E73" />
<rect x="310.86" y="302.80" width="9.40" height="8.50" fill="#D55E00" />
<rect x="310.86" y="311.30" width="9.40" height="9.60" fill="#0072B2" />
<rect x="310.86" y="320.90" width="9.40" height="16.80" fill="#56B4E9" />
<rect x="310.86" y="337.70" width="9.40" height="7.10" fill="#F0E442" />
<rect x="325.12" y="237.60" width="9.40" height="9.20" fill="#CC79A7" />
<rect x="325.12" y="246.80" width="9.40" height="2.20" fill="#333333" />
<rect x="325.12" y="249.00" width="9.40" height="2.70" fill="#E69F00" />
<rect x="325.12" y="251.70" width="9.40" height="12.30" fill="#009E73" />
<rect x="325.12" y="264.00" width="9.40" height="18.40" fill="#D55E00" />
<rect x="325.12" y="282.40" width="9.40" height="24.70" fill="#0072B2" />
<rect x="325.12" y="307.10" width="9.40" height="21.20" fill="#56B4E9" />
<rect x="325.12" y="328.30" width="9.40" height="16.50" fill="#F0E442" />
<rect x="339.38" y="249.00" width="9.40" height="4.00" fill="#CC79A7" />
<rect x="339.38" y="253.00" width="9.40" height="4.10" fill="#333333" />
<rect x="339.38" y="257.10" width="9.40" height="6.00" fill="#E69F00" />
<rect x="339.38" y="263.10" width="9.40" height="13.00" fill="#009E73" />
<rect x="339.38" y="276.10" width="9.40" height="8.10" fill="#D55E00" />
<rect x="339.38" y="284.20" width="9.40" height="14.80" fill="#0072B2" />
<rect x="339.38" y="299.00" width="9.40" height="29.00" fill="#56B4E9" />
<rect x="339.38" y="328.00" width="9.40" height="16.80" fill="#F0E442" />
<rect x="353.64" y="277.00" width="9.40" height="2.50" fill="#CC79A7" />
<rect x="353.64" y="279.50" width="9.40" height="3.00" fill="#333333" />
<rect x="353.64" y="282.50" width="9.40" height="1.90" fill="#E69F00" />
<rect x="353.64" y="284.40" width="9.40" height="6.90" fill="#009E73" />
<rect x="353.64" y="291.30" width="9.40" height="18.10" fill="#D55E00" />
<rect x="353.64" y="309.40" width="9.40" height="7.40" fill="#0072B2" />
<rect x="353.64" y="316.80" width="9.40" height="19.60" fill="#56B4E9" />
<rect x="353.64" y="336.40" width="9.40" height="8.40" fill="#F0E442" />
<rect x="367.90" y="286.90" width="9.40" height="2.40" fill="#CC79A7" />
<rect x="367.90" y="289.30" width="9.40" height="4.40" fill="#333333" />
<rect x="367.90" y="293.70" width="9.40" height="4.20" fill="#E69F00" />
<rect x="367.90" y="297.90" width="9.40" height="5.60" fill="#009E73" />
<rect x="367.90" y="303.50" width="9.40" height="3.50" fill="#D55E00" />
<rect x="367.90" y="307.00" width="9.40" height="8.00" fill="#0072B2" />
<rect x="367.90" y="315.00" width="9.40" height="12.30" fill="#56B4E9" />
<rect x="367.90" y="327.30" width="9.40" height="17.50" fill="#F0E442" />
<rect x="382.16" y="261.10" width="9.40" height="3.00" fill="#CC79A7" />
<rect x="382.16" y="264.10" width="9.40" height="7.60" fill="#333333" />
<rect x="382.16" y="271.70" width="9.40" height="6.60" fill="#E69F00" />
<rect x="382.16" y="278.30" width="9.40" height="13.50" fill="#009E73" />
<rect x="382.16" y="291.80" width="9.40" height="3.60" fill="#D55E00" />
<rect x="382.16" y="295.40" width="9.40" height="5.40" fill="#0072B2" />
<rect x="382.16" y="300.80" width="9.40" height="16.70" fill="#56B4E9" />
<rect x="382.16" y="317.50" width="9.40" height="27.30" fill="#F0E442" />
<rect x="396.42" y="298.30" width="9.40" height="1.70" fill="#CC79A7" />
<rect x="396.42" y="300.00" width="9.40" height="4.10" fill="#333333" />
<rect x="396.42" y="304.10" width="9.40" height="6.20" fill="#E69F00" />
<rect x="396.42" y="310.30" width="9.40" height="6.80" fill="#009E73" />
<rect x="396.42" y="317.10" width="9.40" height="2.50" fill="#D55E00" />
<rect x="396.42" y="319.60" width="9.40" height="4.10" fill="#0072B2" />
<rect x="396.42" y="323.70" width="9.40" height="10.30" fill="#56B4E9" />
<rect x="396.42" y="334.00" width="9.40" height="10.80" fill="#F0E442" />
<rect x="410.68" y="306.20" width="9.40" height="0.60" fill="#CC79A7" />
<rect x="410.68" y="306.80" width="9.40" height="4.10" fill="#333333" />
<rect x="410.68" y="310.90" width="9.40" height="8.30" fill="#E69F00" />
<rect x="410.68" y="319.20" width="9.40" height="2.50" fill="#009E73" />
<rect x="410.68" y="321.70" width="9.40" height="2.00" fill="#D55E00" />
<rect x="410.68" y="323.70" width="9.40" height="4.80" fill="#0072B2" />
<rect x="410.68" y="328.50" width="9.40" height="5.10" fill="#56B4E9" />
<rect x="410.68" y="333.60" width="9.40" height="11.20" fill="#F0E442" />
<rect x="424.94" y="291.00" width="9.40" height="1.30" fill="#CC79A7" />
<rect x="424.94" y="292.30" width="9.40" height="3.50" fill="#333333" />
<rect x="424.94" y="295.80" width="9.40" height="10.90" fill="#E69F00" />
<rect x="424.94" y="306.70" width="9.40" height="5.20" fill="#009E73" />
<rect x="424.94" y="311.90" width="9.40" height="0.80" fill="#D55E00" />
<rect x="424.94" y="312.70" width="9.40" height="7.40" fill="#0072B2" />
<rect x="424.94" y="320.10" width="9.40" height="5.60" fill="#56B4E9" />
<rect x="424.94" y="325.70" width="9.40" height="19.10" fill="#F0E442" />
<rect x="439.20" y="296.40" width="9.40" height="5.60" fill="#CC79A7" />
<rect x="439.20" y="302.00" width="9.40" height="1.60" fill="#333333" />
<rect x="439.20" y="303.60" width="9.40" height="2.10" fill="#E69F00" />
<rect x="439.20" y="305.70" width="9.40" height="5.10" fill="#009E73" />
<rect x="439.20" y="310.80" width="9.40" height="6.20" fill="#D55E00" />
<rect x="439.20" y="317.00" width="9.40" height="5.60" fill="#0072B2" />
<rect x="439.20" y="322.60" width="9.40" height="7.20" fill="#56B4E9" />
<rect x="439.20" y="329.80" width="9.40" height="15.00" fill="#F0E442" />
<polyline points="292.1,237.6 292.1,345.1 453.6,345.1" fill="none" stroke="#111" stroke-width="1.1"/>
<line x1="287.2" y1="237.8" x2="292.1" y2="237.8" stroke="#111" stroke-width="1.0"/>
<text x="286.0" y="240.60000000000002" font-size="7.8" text-anchor="end" font-weight="bold" fill="#111" font-family="Liberation Sans" >625</text>
<line x1="287.2" y1="259.26" x2="292.1" y2="259.26" stroke="#111" stroke-width="1.0"/>
<text x="286.0" y="262.06" font-size="7.8" text-anchor="end" font-weight="bold" fill="#111" font-family="Liberation Sans" >500</text>
<line x1="287.2" y1="280.72" x2="292.1" y2="280.72" stroke="#111" stroke-width="1.0"/>
<text x="286.0" y="283.52000000000004" font-size="7.8" text-anchor="end" font-weight="bold" fill="#111" font-family="Liberation Sans" >375</text>
<line x1="287.2" y1="302.18" x2="292.1" y2="302.18" stroke="#111" stroke-width="1.0"/>
<text x="286.0" y="304.98" font-size="7.8" text-anchor="end" font-weight="bold" fill="#111" font-family="Liberation Sans" >250</text>
<line x1="287.2" y1="323.64" x2="292.1" y2="323.64" stroke="#111" stroke-width="1.0"/>
<text x="286.0" y="326.44" font-size="7.8" text-anchor="end" font-weight="bold" fill="#111" font-family="Liberation Sans" >125</text>
<line x1="287.2" y1="345.1" x2="292.1" y2="345.1" stroke="#111" stroke-width="1.0"/>
<text x="286.0" y="347.90000000000003" font-size="7.8" text-anchor="end" font-weight="bold" fill="#111" font-family="Liberation Sans" >0</text>
<line x1="301.3" y1="345.1" x2="301.3" y2="349.7" stroke="#111" stroke-width="1.0"/>
<text x="304.6" y="356.6" font-size="8.5" font-weight="bold" text-anchor="end" fill="#111" font-family="Liberation Sans" transform="rotate(-45 304.6 356.6)">2013</text>
<line x1="315.56" y1="345.1" x2="315.56" y2="349.7" stroke="#111" stroke-width="1.0"/>
<text x="318.9" y="356.6" font-size="8.5" font-weight="bold" text-anchor="end" fill="#111" font-family="Liberation Sans" transform="rotate(-45 318.9 356.6)">2014</text>
<line x1="329.82" y1="345.1" x2="329.82" y2="349.7" stroke="#111" stroke-width="1.0"/>
<text x="333.1" y="356.6" font-size="8.5" font-weight="bold" text-anchor="end" fill="#111" font-family="Liberation Sans" transform="rotate(-45 333.1 356.6)">2015</text>
<line x1="344.08" y1="345.1" x2="344.08" y2="349.7" stroke="#111" stroke-width="1.0"/>
<text x="347.4" y="356.6" font-size="8.5" font-weight="bold" text-anchor="end" fill="#111" font-family="Liberation Sans" transform="rotate(-45 347.4 356.6)">2016</text>
<line x1="358.34000000000003" y1="345.1" x2="358.34000000000003" y2="349.7" stroke="#111" stroke-width="1.0"/>
<text x="361.6" y="356.6" font-size="8.5" font-weight="bold" text-anchor="end" fill="#111" font-family="Liberation Sans" transform="rotate(-45 361.6 356.6)">2017</text>
<line x1="372.6" y1="345.1" x2="372.6" y2="349.7" stroke="#111" stroke-width="1.0"/>
<text x="375.9" y="356.6" font-size="8.5" font-weight="bold" text-anchor="end" fill="#111" font-family="Liberation Sans" transform="rotate(-45 375.9 356.6)">2018</text>
<line x1="386.86" y1="345.1" x2="386.86" y2="349.7" stroke="#111" stroke-width="1.0"/>
<text x="390.2" y="356.6" font-size="8.5" font-weight="bold" text-anchor="end" fill="#111" font-family="Liberation Sans" transform="rotate(-45 390.2 356.6)">2019</text>
<line x1="401.12" y1="345.1" x2="401.12" y2="349.7" stroke="#111" stroke-width="1.0"/>
<text x="404.4" y="356.6" font-size="8.5" font-weight="bold" text-anchor="end" fill="#111" font-family="Liberation Sans" transform="rotate(-45 404.4 356.6)">2020</text>
<line x1="415.38" y1="345.1" x2="415.38" y2="349.7" stroke="#111" stroke-width="1.0"/>
<text x="418.7" y="356.6" font-size="8.5" font-weight="bold" text-anchor="end" fill="#111" font-family="Liberation Sans" transform="rotate(-45 418.7 356.6)">2021</text>
<line x1="429.64000000000004" y1="345.1" x2="429.64000000000004" y2="349.7" stroke="#111" stroke-width="1.0"/>
<text x="432.9" y="356.6" font-size="8.5" font-weight="bold" text-anchor="end" fill="#111" font-family="Liberation Sans" transform="rotate(-45 432.9 356.6)">2022</text>
<line x1="443.90000000000003" y1="345.1" x2="443.90000000000003" y2="349.7" stroke="#111" stroke-width="1.0"/>
<text x="447.2" y="356.6" font-size="8.5" font-weight="bold" text-anchor="end" fill="#111" font-family="Liberation Sans" transform="rotate(-45 447.2 356.6)">2023</text>
<text x="267.3" y="290.85" font-size="8.8" font-weight="bold" text-anchor="middle" fill="#111" font-family="Liberation Sans" transform="rotate(-90 267.3 290.85)">Number of ST</text>
<text x="372.6" y="384.2" font-size="8.6" text-anchor="middle" font-weight="bold" fill="#111" font-family="Liberation Sans" >Year</text>
<rect x="505.50" y="158.50" width="8.40" height="9.50" fill="#F0E442" />
<rect x="505.50" y="168.00" width="8.40" height="46.60" fill="#E69F00" />
<rect x="505.50" y="214.60" width="8.40" height="17.40" fill="url(#chk2)" />
<rect x="505.50" y="232.00" width="8.40" height="53.50" fill="#D55E00" />
<rect x="505.50" y="285.50" width="8.40" height="23.10" fill="#0072B2" />
<rect x="505.50" y="308.60" width="8.40" height="37.80" fill="#56B4E9" />
<rect x="518.22" y="158.50" width="8.40" height="1.10" fill="#A98296" />
<rect x="518.22" y="159.60" width="8.40" height="10.00" fill="#F0E442" />
<rect x="518.22" y="169.60" width="8.40" height="2.00" fill="#009E73" />
<rect x="518.22" y="171.60" width="8.40" height="29.40" fill="#E69F00" />
<rect x="518.22" y="201.00" width="8.40" height="31.70" fill="url(#chk2)" />
<rect x="518.22" y="232.70" width="8.40" height="33.80" fill="#D55E00" />
<rect x="518.22" y="266.50" width="8.40" height="29.30" fill="#0072B2" />
<rect x="518.22" y="295.80" width="8.40" height="50.60" fill="#56B4E9" />
<rect x="530.94" y="158.50" width="8.40" height="1.10" fill="#555555" />
<rect x="530.94" y="159.60" width="8.40" height="7.40" fill="#F0E442" />
<rect x="530.94" y="167.00" width="8.40" height="1.00" fill="#009E73" />
<rect x="530.94" y="168.00" width="8.40" height="36.30" fill="#E69F00" />
<rect x="530.94" y="204.30" width="8.40" height="20.70" fill="url(#chk2)" />
<rect x="530.94" y="225.00" width="8.40" height="28.70" fill="#D55E00" />
<rect x="530.94" y="253.70" width="8.40" height="27.90" fill="#0072B2" />
<rect x="530.94" y="281.60" width="8.40" height="64.80" fill="#56B4E9" />
<rect x="543.66" y="158.50" width="8.40" height="1.20" fill="#6f6f6f" />
<rect x="543.66" y="159.70" width="8.40" height="11.90" fill="#F0E442" />
<rect x="543.66" y="171.60" width="8.40" height="1.10" fill="#009E73" />
<rect x="543.66" y="172.70" width="8.40" height="31.60" fill="#E69F00" />
<rect x="543.66" y="204.30" width="8.40" height="31.00" fill="url(#chk2)" />
<rect x="543.66" y="235.30" width="8.40" height="24.60" fill="#D55E00" />
<rect x="543.66" y="259.90" width="8.40" height="28.80" fill="#0072B2" />
<rect x="543.66" y="288.70" width="8.40" height="57.70" fill="#56B4E9" />
<rect x="556.38" y="158.50" width="8.40" height="1.80" fill="#4a4a4a" />
<rect x="556.38" y="160.30" width="8.40" height="10.60" fill="#F0E442" />
<rect x="556.38" y="170.90" width="8.40" height="1.50" fill="#009E73" />
<rect x="556.38" y="172.40" width="8.40" height="49.40" fill="#E69F00" />
<rect x="556.38" y="221.80" width="8.40" height="35.80" fill="url(#chk2)" />
<rect x="556.38" y="257.60" width="8.40" height="19.30" fill="#D55E00" />
<rect x="556.38" y="276.90" width="8.40" height="17.80" fill="#0072B2" />
<rect x="556.38" y="294.70" width="8.40" height="51.70" fill="#56B4E9" />
<rect x="569.10" y="158.50" width="8.40" height="1.20" fill="#A98296" />
<rect x="569.10" y="159.70" width="8.40" height="13.00" fill="#F0E442" />
<rect x="569.10" y="172.70" width="8.40" height="23.80" fill="#E69F00" />
<rect x="569.10" y="196.50" width="8.40" height="21.40" fill="url(#chk2)" />
<rect x="569.10" y="217.90" width="8.40" height="21.60" fill="#D55E00" />
<rect x="569.10" y="239.50" width="8.40" height="25.50" fill="#0072B2" />
<rect x="569.10" y="265.00" width="8.40" height="81.40" fill="#56B4E9" />
<rect x="581.82" y="158.50" width="8.40" height="1.20" fill="#D08AB5" />
<rect x="581.82" y="159.70" width="8.40" height="13.00" fill="#F0E442" />
<rect x="581.82" y="172.70" width="8.40" height="1.00" fill="#009E73" />
<rect x="581.82" y="173.70" width="8.40" height="32.60" fill="#E69F00" />
<rect x="581.82" y="206.30" width="8.40" height="22.20" fill="url(#chk2)" />
<rect x="581.82" y="228.50" width="8.40" height="12.90" fill="#D55E00" />
<rect x="581.82" y="241.40" width="8.40" height="24.80" fill="#0072B2" />
<rect x="581.82" y="266.20" width="8.40" height="80.20" fill="#56B4E9" />
<rect x="594.54" y="158.50" width="8.40" height="1.20" fill="#6f6f6f" />
<rect x="594.54" y="159.70" width="8.40" height="12.20" fill="#F0E442" />
<rect x="594.54" y="171.90" width="8.40" height="1.60" fill="#009E73" />
<rect x="594.54" y="173.50" width="8.40" height="32.80" fill="#E69F00" />
<rect x="594.54" y="206.30" width="8.40" height="26.40" fill="url(#chk2)" />
<rect x="594.54" y="232.70" width="8.40" height="15.40" fill="#D55E00" />
<rect x="594.54" y="248.10" width="8.40" height="25.30" fill="#0072B2" />
<rect x="594.54" y="273.40" width="8.40" height="73.00" fill="#56B4E9" />
<rect x="607.26" y="158.50" width="8.40" height="16.30" fill="#F0E442" />
<rect x="607.26" y="174.80" width="8.40" height="1.20" fill="#009E73" />
<rect x="607.26" y="176.00" width="8.40" height="21.80" fill="#E69F00" />
<rect x="607.26" y="197.80" width="8.40" height="16.30" fill="url(#chk2)" />
<rect x="607.26" y="214.10" width="8.40" height="29.50" fill="#D55E00" />
<rect x="607.26" y="243.60" width="8.40" height="25.70" fill="#0072B2" />
<rect x="607.26" y="269.30" width="8.40" height="77.10" fill="#56B4E9" />
<rect x="619.98" y="158.50" width="8.40" height="1.20" fill="#D08AB5" />
<rect x="619.98" y="159.70" width="8.40" height="9.60" fill="#F0E442" />
<rect x="619.98" y="169.30" width="8.40" height="0.80" fill="#009E73" />
<rect x="619.98" y="170.10" width="8.40" height="23.80" fill="#E69F00" />
<rect x="619.98" y="193.90" width="8.40" height="14.20" fill="url(#chk2)" />
<rect x="619.98" y="208.10" width="8.40" height="31.40" fill="#D55E00" />
<rect x="619.98" y="239.50" width="8.40" height="20.20" fill="#0072B2" />
<rect x="619.98" y="259.70" width="8.40" height="86.70" fill="#56B4E9" />
<rect x="632.70" y="158.50" width="8.40" height="1.20" fill="#A98296" />
<rect x="632.70" y="159.70" width="8.40" height="6.50" fill="#F0E442" />
<rect x="632.70" y="166.20" width="8.40" height="2.60" fill="#009E73" />
<rect x="632.70" y="168.80" width="8.40" height="22.50" fill="#E69F00" />
<rect x="632.70" y="191.30" width="8.40" height="11.60" fill="url(#chk2)" />
<rect x="632.70" y="202.90" width="8.40" height="11.90" fill="#D55E00" />
<rect x="632.70" y="214.80" width="8.40" height="39.20" fill="#0072B2" />
<rect x="632.70" y="254.00" width="8.40" height="92.40" fill="#56B4E9" />
<polyline points="501.1,158.3 501.1,346.6 645.3,346.6" fill="none" stroke="#111" stroke-width="1.1"/>
<line x1="497.8" y1="158.5" x2="501.1" y2="158.5" stroke="#111" stroke-width="0.9"/>
<text x="497.1" y="160.4" font-size="5.4" text-anchor="end" font-weight="bold" fill="#111" font-family="Liberation Sans" >100</text>
<line x1="497.8" y1="196.1" x2="501.1" y2="196.1" stroke="#111" stroke-width="0.9"/>
<text x="497.1" y="198.0" font-size="5.4" text-anchor="end" font-weight="bold" fill="#111" font-family="Liberation Sans" >80</text>
<line x1="497.8" y1="233.7" x2="501.1" y2="233.7" stroke="#111" stroke-width="0.9"/>
<text x="497.1" y="235.6" font-size="5.4" text-anchor="end" font-weight="bold" fill="#111" font-family="Liberation Sans" >60</text>
<line x1="497.8" y1="271.3" x2="501.1" y2="271.3" stroke="#111" stroke-width="0.9"/>
<text x="497.1" y="273.2" font-size="5.4" text-anchor="end" font-weight="bold" fill="#111" font-family="Liberation Sans" >40</text>
<line x1="497.8" y1="308.9" x2="501.1" y2="308.9" stroke="#111" stroke-width="0.9"/>
<text x="497.1" y="310.79999999999995" font-size="5.4" text-anchor="end" font-weight="bold" fill="#111" font-family="Liberation Sans" >20</text>
<line x1="497.8" y1="346.5" x2="501.1" y2="346.5" stroke="#111" stroke-width="0.9"/>
<text x="497.1" y="348.4" font-size="5.4" text-anchor="end" font-weight="bold" fill="#111" font-family="Liberation Sans" >0</text>
<line x1="509.7" y1="346.6" x2="509.7" y2="349.7" stroke="#111" stroke-width="0.9"/>
<text x="511.7" y="354.6" font-size="5.1" font-weight="bold" text-anchor="end" fill="#111" font-family="Liberation Sans" transform="rotate(-45 511.7 354.6)">2013</text>
<line x1="522.4200000000001" y1="346.6" x2="522.4200000000001" y2="349.7" stroke="#111" stroke-width="0.9"/>
<text x="524.4" y="354.6" font-size="5.1" font-weight="bold" text-anchor="end" fill="#111" font-family="Liberation Sans" transform="rotate(-45 524.4 354.6)">2014</text>
<line x1="535.1400000000001" y1="346.6" x2="535.1400000000001" y2="349.7" stroke="#111" stroke-width="0.9"/>
<text x="537.1" y="354.6" font-size="5.1" font-weight="bold" text-anchor="end" fill="#111" font-family="Liberation Sans" transform="rotate(-45 537.1 354.6)">2015</text>
<line x1="547.86" y1="346.6" x2="547.86" y2="349.7" stroke="#111" stroke-width="0.9"/>
<text x="549.9" y="354.6" font-size="5.1" font-weight="bold" text-anchor="end" fill="#111" font-family="Liberation Sans" transform="rotate(-45 549.9 354.6)">2016</text>
<line x1="560.58" y1="346.6" x2="560.58" y2="349.7" stroke="#111" stroke-width="0.9"/>
<text x="562.6" y="354.6" font-size="5.1" font-weight="bold" text-anchor="end" fill="#111" font-family="Liberation Sans" transform="rotate(-45 562.6 354.6)">2017</text>
<line x1="573.3000000000001" y1="346.6" x2="573.3000000000001" y2="349.7" stroke="#111" stroke-width="0.9"/>
<text x="575.3" y="354.6" font-size="5.1" font-weight="bold" text-anchor="end" fill="#111" font-family="Liberation Sans" transform="rotate(-45 575.3 354.6)">2018</text>
<line x1="586.0200000000001" y1="346.6" x2="586.0200000000001" y2="349.7" stroke="#111" stroke-width="0.9"/>
<text x="588.0" y="354.6" font-size="5.1" font-weight="bold" text-anchor="end" fill="#111" font-family="Liberation Sans" transform="rotate(-45 588.0 354.6)">2019</text>
<line x1="598.74" y1="346.6" x2="598.74" y2="349.7" stroke="#111" stroke-width="0.9"/>
<text x="600.7" y="354.6" font-size="5.1" font-weight="bold" text-anchor="end" fill="#111" font-family="Liberation Sans" transform="rotate(-45 600.7 354.6)">2020</text>
<line x1="611.46" y1="346.6" x2="611.46" y2="349.7" stroke="#111" stroke-width="0.9"/>
<text x="613.5" y="354.6" font-size="5.1" font-weight="bold" text-anchor="end" fill="#111" font-family="Liberation Sans" transform="rotate(-45 613.5 354.6)">2021</text>
<line x1="624.1800000000001" y1="346.6" x2="624.1800000000001" y2="349.7" stroke="#111" stroke-width="0.9"/>
<text x="626.2" y="354.6" font-size="5.1" font-weight="bold" text-anchor="end" fill="#111" font-family="Liberation Sans" transform="rotate(-45 626.2 354.6)">2022</text>
<line x1="636.9000000000001" y1="346.6" x2="636.9000000000001" y2="349.7" stroke="#111" stroke-width="0.9"/>
<text x="638.9" y="354.6" font-size="5.1" font-weight="bold" text-anchor="end" fill="#111" font-family="Liberation Sans" transform="rotate(-45 638.9 354.6)">2023</text>
<text x="473.6" y="252.2" font-size="8.0" font-weight="bold" text-anchor="middle" fill="#111" font-family="Liberation Sans" transform="rotate(-90 473.6 252.2)">Proportion of E.coli phylogroup (%)</text>
<text x="573.3" y="375.7" font-size="7.9" text-anchor="middle" font-weight="bold" fill="#111" font-family="Liberation Sans" >Year</text>
<rect x="651.90" y="158.80" width="8.30" height="3.00" fill="#56B4E9" />
<text x="664.9" y="162.3" font-size="5.8" text-anchor="start" font-weight="normal" fill="#222" font-family="Liberation Sans" stroke="#222" stroke-width="0.12" >A</text>
<rect x="651.90" y="167.90" width="8.30" height="3.00" fill="#0072B2" />
<text x="664.9" y="171.4" font-size="5.8" text-anchor="start" font-weight="normal" fill="#222" font-family="Liberation Sans" stroke="#222" stroke-width="0.12" >B1</text>
<rect x="651.90" y="178.20" width="8.30" height="3.00" fill="#D55E00" />
<text x="664.9" y="181.7" font-size="5.8" text-anchor="start" font-weight="normal" fill="#222" font-family="Liberation Sans" stroke="#222" stroke-width="0.12" >B2</text>
<rect x="651.90" y="188.00" width="8.30" height="3.00" fill="url(#chk2)" />
<text x="664.9" y="191.5" font-size="5.8" text-anchor="start" font-weight="normal" fill="#222" font-family="Liberation Sans" stroke="#222" stroke-width="0.12" >C</text>
<rect x="651.90" y="197.50" width="8.30" height="3.00" fill="#E69F00" />
<text x="664.9" y="201.0" font-size="5.8" text-anchor="start" font-weight="normal" fill="#222" font-family="Liberation Sans" stroke="#222" stroke-width="0.12" >D</text>
<rect x="651.90" y="207.40" width="8.30" height="3.00" fill="#009E73" />
<text x="664.9" y="210.9" font-size="5.8" text-anchor="start" font-weight="normal" fill="#222" font-family="Liberation Sans" stroke="#222" stroke-width="0.12" >E</text>
<rect x="651.90" y="216.90" width="8.30" height="3.00" fill="#F0E442" />
<text x="664.9" y="220.4" font-size="5.8" text-anchor="start" font-weight="normal" fill="#222" font-family="Liberation Sans" stroke="#222" stroke-width="0.12" >F</text>
<rect x="651.90" y="226.00" width="8.30" height="3.00" fill="#CC79A7" />
<text x="664.9" y="229.5" font-size="5.8" text-anchor="start" font-weight="normal" fill="#222" font-family="Liberation Sans" stroke="#222" stroke-width="0.12" >G</text>
<rect x="651.90" y="236.30" width="8.30" height="3.00" fill="#333333" />
<text x="664.9" y="239.8" font-size="5.8" text-anchor="start" font-weight="normal" fill="#222" font-family="Liberation Sans" stroke="#222" stroke-width="0.12" >other</text></svg></body></html>
